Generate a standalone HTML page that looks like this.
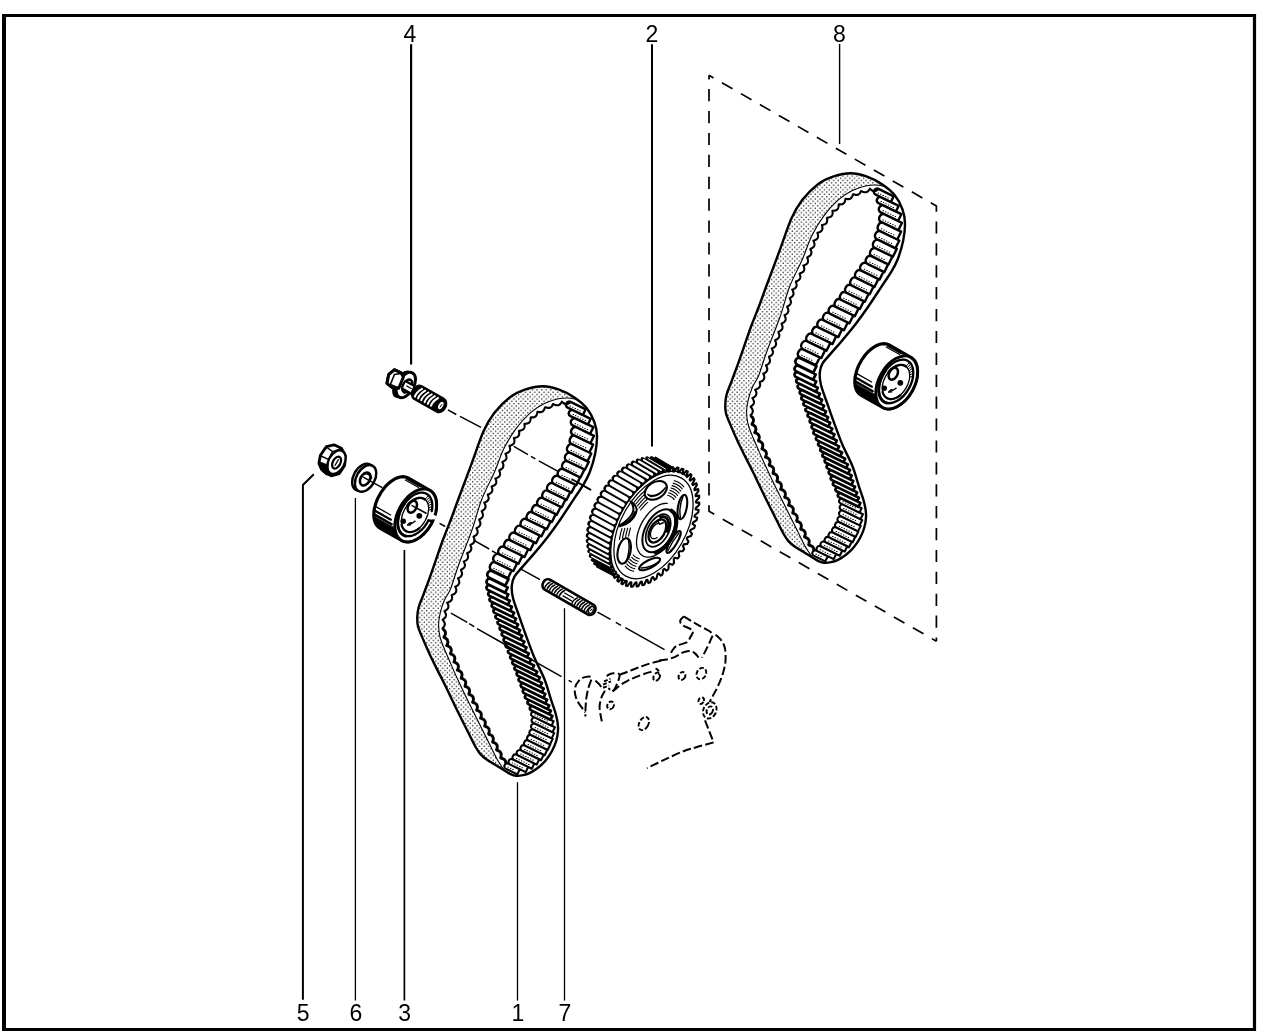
<!DOCTYPE html>
<html lang="en">
<head>
<meta charset="utf-8">
<title>Timing belt - exploded view</title>
<style>
html,body{margin:0;padding:0;background:#fff;}
body{width:1280px;height:1033px;overflow:hidden;font-family:"Liberation Sans",sans-serif;}
svg{display:block;will-change:transform;transform:translateZ(0);}
</style>
</head>
<body>
<svg width="1280" height="1033" viewBox="0 0 1280 1033">
<defs>
<pattern id="stip" width="4.6" height="4.6" patternUnits="userSpaceOnUse">
<rect width="4.6" height="4.6" fill="#fff"/>
<circle cx="1.15" cy="1.15" r="0.72" fill="#000"/>
<circle cx="3.45" cy="3.45" r="0.72" fill="#000"/>
</pattern>
</defs>
<rect width="1280" height="1033" fill="#fff"/>
<path d="M4 15.5 H1254.5 V1029.5 H4 Z" fill="none" stroke="#000" stroke-width="3.2"/>
<rect x="2" y="14" width="4" height="1017" fill="#000"/>
<g font-family="'Liberation Sans', sans-serif" font-size="23px" text-anchor="middle" fill="#000">
<text x="409.9" y="42">4</text>
<text x="651.9" y="42">2</text>
<text x="839.5" y="42">8</text>
<text x="303.1" y="1021">5</text>
<text x="355.8" y="1021">6</text>
<text x="404.6" y="1021">3</text>
<text x="517.8" y="1021">1</text>
<text x="564.8" y="1021">7</text>
</g>
<path d="M411.1 44.3 L411.1 364.5" stroke="#000" stroke-width="2.2" fill="none" />
<path d="M652 44.3 L652 446.5" stroke="#000" stroke-width="2.0" fill="none" />
<path d="M839.6 44 L839.6 144" stroke="#000" stroke-width="1.4" fill="none" />
<path d="M313.8 474.2 L302.9 485 V999.8" stroke="#000" stroke-width="2" fill="none"/>
<path d="M355.4 498 L355.4 1000.6" stroke="#000" stroke-width="1.3" fill="none" />
<path d="M404.4 550 L404.4 1000.6" stroke="#000" stroke-width="1.7" fill="none" />
<path d="M517.5 782.2 L517.5 1000.6" stroke="#000" stroke-width="1.3" fill="none" />
<path d="M564.5 608.3 L564.5 1000.6" stroke="#000" stroke-width="1.3" fill="none" />
<path d="M709 75.3 L936.4 206 V641.2" stroke="#000" stroke-width="1.7" fill="none" stroke-dasharray="12.2 9.7" stroke-linejoin="miter" stroke-dashoffset="7"/>
<path d="M709 75.3 V511.3 L936.4 641.2" stroke="#000" stroke-width="1.7" fill="none" stroke-dasharray="12.2 9.7" stroke-linejoin="miter" stroke-dashoffset="8.1"/>
<path d="M447.9 409.8 L456.3 414.5" stroke="#000" stroke-width="1.5" fill="none"/>
<path d="M460 416.3 L481 427.4" stroke="#000" stroke-width="1.5" fill="none"/>
<path d="M513.8 446.4 L528 454.6" stroke="#000" stroke-width="1.5" fill="none"/>
<path d="M531 456.4 L535.4 458.9" stroke="#000" stroke-width="1.5" fill="none"/>
<path d="M538.8 460.9 L564 474.6" stroke="#000" stroke-width="1.5" fill="none"/>
<path d="M578 482.6 L591 490" stroke="#000" stroke-width="1.5" fill="none"/>
<path d="M439.6 523.3 L445.2 526.5" stroke="#000" stroke-width="1.5" fill="none"/>
<path d="M473.6 540.2 L489.2 549" stroke="#000" stroke-width="1.5" fill="none"/>
<path d="M492 550.8 L497.4 553.8" stroke="#000" stroke-width="1.5" fill="none"/>
<path d="M521 569.2 L540 579.7" stroke="#000" stroke-width="1.5" fill="none"/>
<path d="M597.5 612.2 L610.5 619.4" stroke="#000" stroke-width="1.5" fill="none"/>
<path d="M615.8 622.4 L621 625.3" stroke="#000" stroke-width="1.5" fill="none"/>
<path d="M625.3 627.7 L664.5 649.6" stroke="#000" stroke-width="1.5" fill="none"/>
<path d="M451 613.2 L467.2 622.3" stroke="#000" stroke-width="1.5" fill="none"/>
<path d="M469.2 623.6 L474.2 626.6" stroke="#000" stroke-width="1.5" fill="none"/>
<path d="M477 628.6 L506 645" stroke="#000" stroke-width="1.5" fill="none"/>
<path d="M568.6 680.4 L571.8 682.2" stroke="#000" stroke-width="1.5" fill="none"/>
<g>
<path d="M504 770.2 L503.2 769.7 L502.4 769.2 L501.5 768.7 L500.6 768.1 L499.7 767.5 L498.8 766.9 L497.9 766.4 L496.9 765.8 L496 765.2 L495.1 764.7 L494.2 764.2 L493.3 763.6 L492.4 763.1 L491.4 762.6 L490.5 762 L489.6 761.5 L488.7 760.9 L487.8 760.4 L487 759.8 L486.1 759.2 L485.3 758.5 L484.5 757.9 L483.7 757.3 L482.9 756.6 L482.2 755.9 L481.4 755.2 L480.7 754.4 L480 753.6 L479.4 752.9 L478.9 752.1 L478.3 751.4 L477.8 750.6 L477.3 749.8 L476.8 749 L476.3 748.1 L475.8 747.2 L475.2 746.2 L474.6 745.1 L474 744 L473.6 743.2 L473.2 742.4 L472.7 741.6 L472.3 740.8 L471.9 739.9 L471.4 739 L470.9 738.1 L470.5 737.1 L470 736.2 L469.5 735.2 L469.1 734.2 L468.6 733.2 L468.1 732.2 L467.6 731.1 L467 730.1 L466.5 729.1 L466 728 L465.6 727.2 L465.2 726.3 L464.7 725.5 L464.3 724.6 L463.9 723.8 L463.4 722.9 L463 722 L462.6 721.1 L462.1 720.3 L461.6 719.3 L461.2 718.4 L460.7 717.5 L460.3 716.6 L459.8 715.7 L459.3 714.7 L458.9 713.8 L458.4 712.8 L457.9 711.9 L457.4 710.9 L457 709.9 L456.5 709 L456 708 L455.6 707.1 L455.1 706.2 L454.7 705.3 L454.2 704.4 L453.8 703.4 L453.3 702.5 L452.9 701.5 L452.4 700.5 L451.9 699.5 L451.5 698.5 L451 697.5 L450.5 696.5 L450 695.5 L449.6 694.6 L449.1 693.6 L448.7 692.6 L448.2 691.7 L447.8 690.8 L447.3 689.9 L446.9 689 L446.5 688.1 L446.1 687.3 L445.7 686.5 L445.4 685.7 L445 685 L444.4 683.8 L443.9 682.7 L443.4 681.7 L442.9 680.8 L442.5 679.9 L442.1 679.1 L441.7 678.3 L441.3 677.6 L440.9 676.8 L440.5 676 L440 675.2 L439.6 674.4 L439.1 673.4 L438.6 672.4 L438.2 671.6 L437.8 670.8 L437.4 669.9 L436.9 669.1 L436.5 668.2 L436 667.3 L435.6 666.4 L435.1 665.5 L434.7 664.6 L434.2 663.7 L433.7 662.7 L433.3 661.8 L432.8 660.8 L432.3 659.9 L431.8 658.9 L431.4 657.9 L430.9 656.9 L430.5 656 L430 655 L429.6 654.1 L429.2 653.2 L428.7 652.2 L428.3 651.3 L427.8 650.3 L427.4 649.3 L426.9 648.3 L426.5 647.2 L426 646.2 L425.6 645.2 L425.2 644.2 L424.7 643.2 L424.3 642.2 L423.9 641.3 L423.5 640.3 L423.1 639.4 L422.7 638.5 L422.4 637.7 L422 636.9 L421.7 636.1 L421.4 635.4 L420.8 634 L420.3 632.9 L419.9 631.8 L419.5 630.9 L419.2 630 L418.8 629.2 L418.6 628.5 L418.3 627.7 L418.1 626.9 L417.9 626 L417.7 625 L417.5 624 L417.4 623 L417.3 622 L417.3 621 L417.3 620 L417.2 619 L417.3 618 L417.3 617 L417.3 617 L417.3 616 L417.4 615 L417.5 614 L417.6 613 L417.7 612 L417.8 610.9 L418 609.8 L418.3 608.7 L418.6 607.5 L418.8 606.7 L419.1 605.9 L419.4 605 L419.7 604.2 L420 603.4 L420.3 602.6 L420.7 601.7 L421.1 600.7 L421.5 599.7 L421.9 598.7 L422.3 597.6 L422.8 596.3 L423.3 595 L423.6 594.2 L423.9 593.5 L424.2 592.6 L424.5 591.8 L424.8 591 L425.1 590.1 L425.5 589.2 L425.8 588.3 L426.2 587.3 L426.5 586.4 L426.9 585.4 L427.2 584.4 L427.6 583.4 L428 582.4 L428.4 581.4 L428.7 580.3 L429.1 579.3 L429.5 578.2 L429.9 577.1 L430.3 576 L430.7 574.9 L431.1 573.8 L431.5 572.7 L431.9 571.6 L432.2 570.7 L432.5 569.9 L432.8 569 L433.1 568.1 L433.5 567.1 L433.8 566.2 L434.1 565.2 L434.5 564.2 L434.8 563.2 L435.1 562.2 L435.5 561.2 L435.8 560.2 L436.2 559.2 L436.5 558.2 L436.9 557.2 L437.2 556.2 L437.6 555.1 L437.9 554.1 L438.3 553.1 L438.6 552.1 L439 551.1 L439.3 550.1 L439.6 549.1 L440 548.1 L440.3 547.2 L440.6 546.2 L441 545.3 L441.3 544.4 L441.6 543.5 L441.9 542.7 L442.2 541.8 L442.5 541 L442.9 539.8 L443.3 538.7 L443.7 537.6 L444.1 536.6 L444.5 535.6 L444.9 534.6 L445.3 533.6 L445.7 532.6 L446.1 531.7 L446.4 530.7 L446.8 529.8 L447.2 528.9 L447.5 528 L447.9 527.2 L448.2 526.3 L448.6 525.4 L448.9 524.5 L449.3 523.6 L449.6 522.7 L450 521.8 L450.3 520.9 L450.7 520 L451.1 519 L451.4 518.1 L451.7 517.3 L452 516.4 L452.3 515.6 L452.6 514.8 L452.9 514 L453.2 513.2 L453.5 512.3 L453.8 511.5 L454.1 510.7 L454.4 509.8 L454.7 508.9 L455.1 508 L455.4 507.1 L455.8 506 L456.2 505 L456.6 503.8 L457 502.6 L457.5 501.4 L458 500 L458.3 499.3 L458.6 498.5 L458.8 497.7 L459.1 496.9 L459.5 496.1 L459.8 495.2 L460.1 494.4 L460.4 493.5 L460.8 492.6 L461.1 491.6 L461.5 490.7 L461.8 489.7 L462.2 488.8 L462.6 487.8 L462.9 486.8 L463.3 485.8 L463.7 484.8 L464.1 483.8 L464.4 482.7 L464.8 481.7 L465.2 480.7 L465.6 479.6 L466 478.6 L466.4 477.6 L466.8 476.5 L467.2 475.5 L467.5 474.5 L467.9 473.5 L468.3 472.5 L468.7 471.4 L469.1 470.4 L469.4 469.5 L469.8 468.5 L470.1 467.5 L470.5 466.6 L470.9 465.6 L471.2 464.7 L471.5 463.8 L471.9 462.9 L472.2 462 L472.5 461.2 L472.9 460.1 L473.3 459 L473.7 457.9 L474.1 456.9 L474.5 455.8 L474.8 454.7 L475.2 453.7 L475.6 452.6 L475.9 451.6 L476.3 450.6 L476.6 449.6 L477 448.6 L477.3 447.6 L477.7 446.6 L478 445.6 L478.3 444.7 L478.7 443.7 L479 442.8 L479.3 441.9 L479.7 440.9 L480 440 L480.3 439.1 L480.7 438.2 L481 437.4 L481.3 436.5 L481.7 435.7 L482 434.8 L482.4 434 L482.7 433.2 L483 432.4 L483.4 431.6 L483.9 430.5 L484.4 429.4 L484.9 428.3 L485.4 427.3 L485.9 426.3 L486.4 425.3 L486.9 424.4 L487.4 423.5 L487.9 422.6 L488.4 421.8 L488.9 420.9 L489.4 420.1 L489.9 419.2 L490.4 418.4 L490.9 417.6 L491.5 416.8 L492 416 L492.6 415.2 L493.2 414.4 L493.8 413.6 L494.4 412.8 L495 412 L495.6 411.2 L496.3 410.4 L497 409.7 L497.6 408.9 L498.3 408.1 L499 407.3 L499.7 406.6 L500.5 405.8 L501.2 405.1 L501.9 404.3 L502.6 403.6 L503.4 402.9 L504.1 402.2 L504.9 401.5 L505.6 400.8 L506.4 400.2 L507.1 399.5 L507.8 398.9 L508.6 398.3 L509.3 397.7 L510 397.2 L510.9 396.5 L511.8 395.9 L512.7 395.3 L513.6 394.7 L514.5 394.2 L515.4 393.7 L516.3 393.2 L517.2 392.7 L518.2 392.3 L519.1 391.9 L520 391.5 L520.9 391.1 L521.8 390.8 L522.8 390.4 L523.7 390.1 L524.6 389.7 L525.6 389.4 L526.6 389.1 L527.6 388.8 L528.6 388.5 L529.6 388.2 L530.6 387.9 L531.6 387.7 L532.6 387.4 L533.7 387.2 L534.7 387 L535.8 386.8 L536.8 386.7 L537.8 386.5 L538.8 386.4 L539.8 386.3 L540.8 386.3 L541.8 386.2 L542.8 386.2 L543.9 386.2 L545 386.3 L546 386.4 L547.1 386.5 L548.1 386.6 L549.2 386.8 L550.2 387 L551.2 387.2 L552.2 387.5 L553.3 387.8 L554.3 388 L555.3 388.4 L556.3 388.7 L557.4 389 L558.4 389.4 L559.3 389.7 L560.3 390.1 L561.2 390.5 L562.1 390.9 L563.1 391.3 L564 391.7 L565 392.1 L565.9 392.6 L566.9 393.1 L567.8 393.5 L568.7 394 L569.6 394.5 L570.5 395.1 L571.4 395.6 L572.3 396.1 L573.2 396.7 L574 397.2 L574.9 397.8 L575.8 398.4 L576.6 399 L577.5 399.6 L577 399.6 L576.4 399.5 L575.6 399.3 L574.6 399.1 L573.6 398.9 L572.4 398.6 L571.2 398.4 L570 398.2 L568.9 398.1 L567.8 398 L566.8 398 L565.8 397.9 L564.9 397.9 L563.9 398 L562.9 398.1 L561.9 398.2 L560.8 398.3 L559.6 398.5 L558.4 398.8 L557.5 399 L556.6 399.2 L555.7 399.4 L554.7 399.7 L553.7 400 L552.7 400.3 L551.7 400.6 L550.6 400.9 L549.6 401.2 L548.5 401.6 L547.5 402 L546.4 402.5 L545.4 402.9 L544.4 403.4 L543.5 403.8 L542.6 404.3 L541.8 404.8 L540.9 405.3 L540 405.8 L539.1 406.3 L538.2 406.8 L537.4 407.4 L536.5 408 L535.6 408.6 L534.7 409.2 L533.8 409.9 L532.9 410.6 L532.1 411.3 L531.2 412 L530.3 412.8 L529.6 413.4 L529 414 L528.3 414.7 L527.6 415.3 L526.9 416 L526.2 416.7 L525.5 417.4 L524.9 418.1 L524.2 418.8 L523.5 419.5 L522.8 420.3 L522.1 421.1 L521.4 421.8 L520.8 422.6 L520.1 423.4 L519.4 424.2 L518.8 425 L518.1 425.9 L517.5 426.7 L516.8 427.5 L516.2 428.4 L515.6 429.2 L515 430 L514.5 430.8 L513.9 431.6 L513.3 432.5 L512.8 433.3 L512.2 434.2 L511.6 435 L511.1 435.9 L510.5 436.8 L510 437.7 L509.4 438.6 L508.9 439.5 L508.4 440.4 L507.8 441.3 L507.3 442.2 L506.8 443.1 L506.3 444.1 L505.8 445 L505.3 446 L504.8 446.9 L504.3 447.8 L503.8 448.8 L503.4 449.7 L503 450.6 L502.6 451.4 L502.2 452.3 L501.8 453.2 L501.4 454.1 L501 455 L500.7 455.9 L500.3 456.8 L500 457.7 L499.6 458.7 L499.3 459.6 L499 460.5 L498.6 461.4 L498.3 462.4 L497.9 463.3 L497.6 464.3 L497.2 465.2 L496.8 466.2 L496.5 467.2 L496.1 468.2 L495.7 469.2 L495.3 470.2 L494.8 471.2 L494.4 472.2 L494 473.1 L493.6 473.9 L493.2 474.8 L492.8 475.7 L492.4 476.6 L492 477.4 L491.6 478.3 L491.1 479.2 L490.7 480.1 L490.2 481.1 L489.8 482 L489.3 482.9 L488.9 483.8 L488.4 484.8 L488 485.7 L487.5 486.6 L487 487.6 L486.6 488.5 L486.1 489.5 L485.7 490.4 L485.2 491.4 L484.8 492.3 L484.3 493.3 L483.9 494.2 L483.5 495.2 L483.1 496.1 L482.7 497.1 L482.3 498.1 L481.9 499 L481.5 500 L481.1 500.9 L480.8 501.9 L480.5 502.8 L480.1 503.7 L479.8 504.7 L479.5 505.6 L479.2 506.5 L478.9 507.5 L478.6 508.4 L478.3 509.4 L478 510.3 L477.7 511.3 L477.5 512.2 L477.2 513.2 L476.9 514.1 L476.6 515.1 L476.3 516.1 L476.1 517 L475.8 518 L475.5 519 L475.2 519.9 L474.9 520.9 L474.6 521.9 L474.3 522.9 L474 523.9 L473.7 524.9 L473.4 525.9 L473 526.9 L472.7 527.9 L472.4 529 L472 530 L471.7 530.9 L471.4 531.8 L471 532.7 L470.7 533.7 L470.3 534.6 L470 535.5 L469.6 536.5 L469.3 537.5 L468.9 538.4 L468.5 539.4 L468.1 540.4 L467.8 541.4 L467.4 542.4 L467 543.4 L466.6 544.3 L466.2 545.3 L465.8 546.3 L465.4 547.3 L465 548.3 L464.7 549.3 L464.3 550.3 L463.9 551.3 L463.5 552.2 L463.1 553.2 L462.7 554.2 L462.4 555.1 L462 556.1 L461.6 557 L461.3 557.9 L460.9 558.8 L460.6 559.7 L460.3 560.6 L459.9 561.5 L459.6 562.3 L459.3 563.2 L459 564 L458.6 565.1 L458.2 566.2 L457.8 567.4 L457.4 568.5 L457.1 569.5 L456.7 570.6 L456.3 571.7 L456 572.8 L455.7 573.8 L455.3 574.8 L455 575.8 L454.7 576.8 L454.4 577.8 L454.1 578.8 L453.8 579.7 L453.5 580.7 L453.2 581.6 L452.9 582.5 L452.6 583.3 L452.3 584.2 L452 585 L451.7 585.8 L451.4 586.6 L451.2 587.4 L450.9 588.1 L450.6 588.8 L450 590.2 L449.4 591.4 L448.9 592.5 L448.3 593.5 L447.8 594.3 L447.3 595.1 L446.8 595.9 L446.3 596.6 L445.8 597.4 L445.4 598.2 L444.9 599 L444.5 600 L444.1 600.9 L443.7 601.9 L443.3 602.9 L443 603.9 L442.6 604.9 L442.2 605.9 L441.9 607 L441.6 608 L441.3 609 L441 610 L440.7 611 L440.4 612 L440.2 613 L440 614 L439.7 615.1 L439.5 616.1 L439.4 617.1 L439.2 618.1 L439 619.1 L438.9 620.1 L438.8 621 L438.7 622 L438.7 623 L438.6 624 L438.6 625 L438.6 626 L438.6 627 L438.7 628 L438.7 629 L438.8 630.1 L439 631.1 L439.1 632.1 L439.2 633.1 L439.4 634.1 L439.6 635.1 L439.8 636 L440 637 L440.3 638 L440.5 639 L440.8 640 L441.2 640.9 L441.5 641.9 L441.9 642.9 L442.3 643.8 L442.7 644.8 L443.1 645.8 L443.6 646.9 L444 648 L444.3 648.8 L444.7 649.7 L445 650.5 L445.4 651.4 L445.8 652.3 L446.2 653.2 L446.6 654.1 L447 655 L447.4 656 L447.8 656.9 L448.2 657.9 L448.6 658.9 L449.1 659.9 L449.5 660.9 L450 662 L450.4 662.8 L450.7 663.7 L451.1 664.6 L451.5 665.4 L451.9 666.3 L452.3 667.2 L452.7 668.1 L453.1 669 L453.5 670 L453.9 670.9 L454.3 671.9 L454.7 672.8 L455.2 673.8 L455.6 674.8 L456.1 675.8 L456.5 676.8 L457 677.9 L457.5 678.9 L458 680 L458.4 680.8 L458.8 681.7 L459.2 682.5 L459.6 683.4 L460 684.3 L460.4 685.2 L460.9 686.1 L461.3 687 L461.7 688 L462.2 688.9 L462.6 689.8 L463.1 690.8 L463.5 691.7 L464 692.7 L464.5 693.6 L464.9 694.6 L465.4 695.5 L465.8 696.5 L466.3 697.4 L466.8 698.4 L467.2 699.3 L467.7 700.3 L468.1 701.2 L468.6 702.1 L469 703 L469.5 703.9 L469.9 704.9 L470.4 705.8 L470.8 706.7 L471.3 707.7 L471.8 708.6 L472.2 709.6 L472.7 710.5 L473.2 711.4 L473.6 712.3 L474.1 713.3 L474.6 714.2 L475 715.1 L475.5 716 L475.9 716.9 L476.4 717.9 L476.9 718.8 L477.3 719.7 L477.8 720.6 L478.2 721.5 L478.7 722.4 L479.1 723.2 L479.6 724.1 L480 725 L480.5 726 L481 726.9 L481.4 727.9 L481.9 728.8 L482.4 729.8 L482.9 730.8 L483.4 731.7 L483.8 732.7 L484.3 733.6 L484.8 734.6 L485.2 735.5 L485.7 736.4 L486.2 737.3 L486.6 738.3 L487.1 739.1 L487.5 740 L488 740.9 L488.4 741.8 L488.8 742.6 L489.2 743.4 L489.6 744.2 L490 745 L490.6 746.1 L491.1 747.2 L491.6 748.2 L492.1 749.2 L492.6 750.2 L493 751.2 L493.5 752.1 L493.9 753 L494.4 753.9 L494.8 754.8 L495.2 755.7 L495.7 756.5 L496.1 757.3 L496.5 758.2 L497 759 L497.6 760 L498.2 761.1 L498.9 762.2 L499.5 763.2 L500.2 764.3 L500.8 765.3 L501.5 766.2 L502 767.1 L502.6 767.9 L503.1 768.7 L503.5 769.3 L503.8 769.8Z" fill="url(#stip)" stroke="none"/>
<path d="M551.5 725.7 L532.5 716.4 A2.4 2.4 26.1 0 1 534.6 712 L553.6 721.3Z M552.5 732.2 L533.2 722.8 A2.7 2.7 26.1 0 1 535.6 717.9 L554.9 727.3Z M551.6 738.4 L532.7 729.2 A2.9 2.9 26.1 0 1 535.3 723.9 L554.2 733.1Z M550 744.4 L531.2 735.2 A3 3 26.1 0 1 533.8 729.7 L552.7 738.9Z M547.6 750 L528.8 740.8 A3 3 26.1 0 1 531.5 735.3 L550.3 744.5Z M544.7 755.3 L525.7 746 A3 3 26.1 0 1 528.4 740.6 L547.3 749.8Z M541 760.2 L522.2 751 A3 3 26.1 0 1 524.9 745.6 L543.7 754.8Z M536.7 764.6 L518.3 755.6 A2.9 2.9 26.1 0 1 520.9 750.3 L539.3 759.3Z M531.8 768.7 L514.1 760 A2.9 2.9 26.1 0 1 516.7 754.8 L534.3 763.5Z M525.7 772.1 L509.9 764.4 A2.9 2.9 26.1 0 1 512.4 759.2 L528.2 766.9Z M517.3 774.4 L505.6 768.6 A2.8 2.8 26.1 0 1 508 763.6 L519.8 769.3Z" fill="#fff" stroke="#000" stroke-width="2.1" stroke-linejoin="round"/>
<path d="M582.8 415.1 L567.7 407.7 A3.2 3.2 26.1 0 1 570.5 401.9 L585.7 409.3Z M587.9 424.6 L570.5 416.1 A3.2 3.2 26.1 0 1 573.4 410.4 L590.7 418.8Z M590.1 433.8 L572.7 425.3 A3.4 3.7 26.1 0 1 575.9 418.6 L593.4 427.2Z M590.4 443.3 L572.5 434.6 A3.4 4.2 26.1 0 1 576.1 427.1 L594 435.8Z M589.3 452.5 L570.9 443.5 A3.4 4.4 26.1 0 1 574.7 435.7 L593.1 444.7Z M587.4 461.3 L568.7 452.1 A3.4 4.3 26.1 0 1 572.5 444.3 L591.3 453.5Z M584.9 469.7 L566.6 460.8 A3.4 4.4 26.1 0 1 570.5 452.9 L588.8 461.9Z M580.5 477.5 L563.7 469.2 A3.4 4.4 26.1 0 1 567.6 461.3 L584.4 469.5Z M576.3 485.2 L559.4 476.9 A3.4 4.3 26.1 0 1 563.2 469.1 L580.1 477.4Z M571.5 492.6 L553.8 483.9 A3.4 4.4 26.1 0 1 557.7 476 L575.4 484.7Z M566.5 499.9 L548.7 491.2 A3.4 4.4 26.1 0 1 552.6 483.3 L570.4 492Z M561.7 507.3 L543.7 498.5 A3.4 4.4 26.1 0 1 547.5 490.6 L565.5 499.4Z M556.8 514.7 L538.6 505.8 A3.4 4.4 26.1 0 1 542.4 497.9 L560.7 506.8Z M551.9 522 L533.2 512.9 A3.4 4.4 26.1 0 1 537.1 505.1 L555.7 514.2Z M546.8 529.2 L527.8 519.9 A3.4 4.4 26.1 0 1 531.6 512.1 L550.6 521.4Z M541.5 536.3 L522.3 526.9 A3.4 4.3 26.1 0 1 526.1 519.1 L545.3 528.5Z M536 543.2 L516.7 533.8 A3.4 4.3 26.1 0 1 520.5 526 L539.8 535.5Z M530.3 550.1 L511 540.6 A3.4 4.3 26.1 0 1 514.8 532.8 L534.1 542.3Z M524.5 557 L505.4 547.6 A3.4 4.4 26.1 0 1 509.2 539.8 L528.3 549.1Z M518.5 563.7 L499.9 554.7 A3.4 4.4 26.1 0 1 503.8 546.8 L522.4 555.9Z M513.4 571.1 L494.9 562.1 A3.4 4.4 26.1 0 1 498.8 554.1 L517.2 563.1Z M507.9 578.2 L491.3 570 A3.4 4.3 26.1 0 1 495 562.3 L511.7 570.5Z" fill="#fff" stroke="#000" stroke-width="2.4" stroke-linejoin="round"/>
<path d="M505.3 585.6 L489.2 577.7 A3.4 3.6 26.1 0 1 492.4 571.2 L508.5 579.1Z M505.1 592.7 L487.8 584.2 A3 3 26.1 0 1 490.4 578.9 L507.7 587.4Z M506 598.9 L487.9 590 A2.5 2.5 26.1 0 1 490.1 585.5 L508.3 594.4Z M507.8 604.8 L489.1 595.6 A2.3 2.3 26.1 0 1 491.1 591.6 L509.8 600.7Z M510 610.8 L490.9 601.5 A2.2 2.2 26.1 0 1 492.8 597.4 L511.9 606.8Z M512.2 616.7 L492.7 607.2 A2.2 2.2 26.1 0 1 494.6 603.3 L514.1 612.8Z M514.2 622.5 L494.6 612.9 A2.1 2.1 26.1 0 1 496.5 609.1 L516.1 618.6Z M516.2 628.2 L496.7 618.6 A2.1 2.1 26.1 0 1 498.5 614.8 L518.1 624.4Z M518.3 633.9 L498.7 624.4 A2.1 2.1 26.1 0 1 500.6 620.6 L520.1 630.1Z M520.3 639.7 L500.8 630.1 A2.1 2.1 26.1 0 1 502.7 626.3 L522.2 635.8Z M522.4 645.5 L502.8 635.9 A2.2 2.2 26.1 0 1 504.8 632 L524.4 641.6Z M524.6 651.5 L504.7 641.7 A2.2 2.2 26.1 0 1 506.7 637.8 L526.5 647.5Z M526.9 657.3 L506.7 647.4 A2.1 2.1 26.1 0 1 508.6 643.6 L528.8 653.5Z M529.2 663.1 L508.8 653.1 A2.1 2.1 26.1 0 1 510.6 649.4 L531.1 659.4Z M532.3 669.2 L511 658.8 A2.1 2.1 26.1 0 1 512.8 655.1 L534.1 665.5Z M535.5 675.2 L513.3 664.3 A2 2 26.1 0 1 515 660.7 L537.2 671.6Z M538.1 681 L515.6 670 A2 2 26.1 0 1 517.4 666.4 L539.9 677.4Z M540.1 686.7 L517.8 675.8 A2.1 2.1 26.1 0 1 519.7 672 L542 682.9Z M541.9 692.3 L519.9 681.6 A2.1 2.1 26.1 0 1 521.8 677.7 L543.7 688.5Z M543.4 697.9 L521.9 687.3 A2.1 2.1 26.1 0 1 523.8 683.5 L545.3 694Z M545.2 703.5 L524 693.1 A2.1 2.1 26.1 0 1 525.8 689.3 L547.1 699.7Z M547.4 709.1 L526.1 698.6 A2 2 26.1 0 1 527.9 695 L549.2 705.4Z M549.2 714.3 L528.5 704.2 A2 2 26.1 0 1 530.2 700.6 L550.9 710.7Z M550.5 719.8 L530.8 710.1 A2.2 2.2 26.1 0 1 532.7 706.2 L552.4 715.9Z" fill="#fff" stroke="#000" stroke-width="2.7" stroke-linejoin="round"/>
<path d="M570.1 406.1h0.5 M572.5 407.3h0.5 M575 408.5h0.5 M577.4 409.7h0.5 M579.8 410.9h0.5 M573 414.5h0.5 M575.4 415.7h0.5 M577.8 416.9h0.5 M580.3 418.1h0.5 M582.7 419.3h0.5 M585.1 420.5h0.5 M575.1 423.7h0.5 M577.5 424.9h0.5 M579.9 426h0.5 M582.4 427.2h0.5 M584.8 428.4h0.5 M587.2 429.6h0.5 M574.9 433h0.5 M577.3 434.2h0.5 M579.8 435.3h0.5 M582.2 436.5h0.5 M584.6 437.7h0.5 M587.1 438.9h0.5 M573.3 441.9h0.5 M575.7 443.1h0.5 M578.2 444.3h0.5 M580.6 445.5h0.5 M583 446.6h0.5 M585.4 447.8h0.5 M571.1 450.5h0.5 M573.6 451.7h0.5 M576 452.9h0.5 M578.4 454.1h0.5 M580.8 455.3h0.5 M583.3 456.4h0.5 M569.1 459.2h0.5 M571.5 460.4h0.5 M573.9 461.6h0.5 M576.3 462.8h0.5 M578.8 464h0.5 M581.2 465.1h0.5 M566.1 467.7h0.5 M568.5 468.8h0.5 M570.9 470h0.5 M573.4 471.2h0.5 M575.8 472.4h0.5 M561.8 475.3h0.5 M564.3 476.5h0.5 M566.7 477.7h0.5 M569.1 478.9h0.5 M571.5 480.1h0.5 M556.3 482.3h0.5 M558.7 483.5h0.5 M561.1 484.7h0.5 M563.5 485.9h0.5 M566 487.1h0.5 M568.4 488.2h0.5 M551.2 489.6h0.5 M553.6 490.8h0.5 M556 492h0.5 M558.5 493.2h0.5 M560.9 494.4h0.5 M563.3 495.6h0.5 M546.1 497h0.5 M548.5 498.1h0.5 M551 499.3h0.5 M553.4 500.5h0.5 M555.8 501.7h0.5 M558.3 502.9h0.5 M541 504.2h0.5 M543.5 505.4h0.5 M545.9 506.6h0.5 M548.3 507.8h0.5 M550.7 509h0.5 M553.2 510.2h0.5 M535.7 511.3h0.5 M538.1 512.5h0.5 M540.5 513.7h0.5 M543 514.9h0.5 M545.4 516.1h0.5 M547.8 517.2h0.5 M530.2 518.4h0.5 M532.7 519.5h0.5 M535.1 520.7h0.5 M537.5 521.9h0.5 M539.9 523.1h0.5 M542.4 524.3h0.5 M524.8 525.3h0.5 M527.2 526.5h0.5 M529.6 527.7h0.5 M532 528.9h0.5 M534.5 530.1h0.5 M536.9 531.3h0.5 M519.1 532.2h0.5 M521.6 533.4h0.5 M524 534.6h0.5 M526.4 535.8h0.5 M528.8 537h0.5 M531.3 538.1h0.5 M513.4 539h0.5 M515.8 540.2h0.5 M518.3 541.4h0.5 M520.7 542.6h0.5 M523.1 543.8h0.5 M525.5 545h0.5 M507.9 546h0.5 M510.3 547.2h0.5 M512.7 548.4h0.5 M515.1 549.6h0.5 M517.6 550.8h0.5 M520 552h0.5 M502.4 553.1h0.5 M504.8 554.3h0.5 M507.2 555.4h0.5 M509.7 556.6h0.5 M512.1 557.8h0.5 M514.5 559h0.5 M497.3 560.5h0.5 M499.8 561.7h0.5 M502.2 562.9h0.5 M504.6 564h0.5 M507.1 565.2h0.5 M509.5 566.4h0.5 M493.7 568.4h0.5 M496.1 569.6h0.5 M498.6 570.8h0.5 M501 572h0.5 M503.4 573.2h0.5 M534.8 714.9h0.5 M537.3 716.1h0.5 M539.7 717.3h0.5 M542.1 718.5h0.5 M544.5 719.6h0.5 M547 720.8h0.5 M535.6 721.4h0.5 M538 722.6h0.5 M540.5 723.8h0.5 M542.9 724.9h0.5 M545.3 726.1h0.5 M547.7 727.3h0.5 M535.1 727.7h0.5 M537.5 728.9h0.5 M540 730.1h0.5 M542.4 731.3h0.5 M544.8 732.5h0.5 M547.2 733.6h0.5 M533.6 733.7h0.5 M536 734.9h0.5 M538.4 736.1h0.5 M540.8 737.3h0.5 M543.3 738.5h0.5 M545.7 739.6h0.5 M531.2 739.4h0.5 M533.6 740.5h0.5 M536.1 741.7h0.5 M538.5 742.9h0.5 M540.9 744.1h0.5 M543.3 745.3h0.5 M528.1 744.6h0.5 M530.5 745.8h0.5 M532.9 746.9h0.5 M535.4 748.1h0.5 M537.8 749.3h0.5 M540.2 750.5h0.5 M524.6 749.5h0.5 M527 750.7h0.5 M529.5 751.9h0.5 M531.9 753.1h0.5 M534.3 754.3h0.5 M536.7 755.5h0.5 M520.7 754.1h0.5 M523.1 755.3h0.5 M525.5 756.5h0.5 M527.9 757.7h0.5 M530.4 758.9h0.5 M532.8 760.1h0.5 M516.5 758.6h0.5 M518.9 759.8h0.5 M521.4 760.9h0.5 M523.8 762.1h0.5 M526.2 763.3h0.5 M528.6 764.5h0.5 M512.2 762.9h0.5 M514.7 764.1h0.5 M517.1 765.3h0.5 M519.5 766.5h0.5 M521.9 767.7h0.5 M507.9 767.2h0.5 M510.4 768.4h0.5 M512.8 769.5h0.5" stroke="#000" stroke-width="1" stroke-linecap="round" fill="none"/>
<path d="M417.3 617 C417.4 613.9 417.6 611.2 418.6 607.5 C419.6 603.8 421.1 601 423.3 595 C425.5 589 428.7 580.6 431.9 571.6 C435.1 562.6 439.4 549.6 442.5 541 C445.6 532.4 448.1 526.8 450.7 520 C453.3 513.2 454.4 509.8 458 500 C461.6 490.2 468.3 472.6 472.5 461.2 C476.7 449.8 479.8 439.7 483.4 431.6 C487 423.5 490 418.5 494.4 412.8 C498.8 407.1 504.8 401.1 510 397.2 C515.2 393.3 520.1 391.2 525.6 389.4 C531.1 387.6 537.3 386.2 542.8 386.2 C548.3 386.2 553.2 387.6 558.4 389.4 C563.6 391.2 569.3 394.1 574 397.2 C578.7 400.3 583.2 403.9 586.6 408.1 C590 412.3 592.7 417.5 594.4 422.2 C596.1 426.9 596.9 431 597 436.2 C597.1 441.4 596.4 447.4 595.2 453.4 C594 459.4 591.7 467 589.7 472.2 C587.7 477.4 586 480.3 583.4 484.7 C580.8 489.1 577.9 492.9 574 498.8 C570.1 504.7 564.4 513.6 560 520 C555.6 526.4 551.9 531.5 547.5 537.2 C543.1 542.9 537.6 549.5 533.4 554.4 C529.2 559.3 525.6 563.3 522.5 566.9 C519.4 570.5 516.5 573.1 514.7 576.2 C512.9 579.3 512.1 582 511.8 585.6 C511.5 589.2 511.7 592.8 513 598 C514.3 603.2 517 610.1 519.4 616.9 C521.8 623.7 524.6 631.8 527.2 638.8 C529.8 645.8 532.1 652.3 535 659 C537.9 665.7 541.7 672.2 544.4 679 C547.1 685.8 549.2 694 551 699.5 C552.8 705 554.1 708.2 555.2 712 C556.3 715.8 557 718.9 557.5 722 C558 725.1 558.2 727.3 558 730.5 C557.8 733.7 557.2 737.6 556.2 741 C555.2 744.4 553.7 747.8 552 751 C550.3 754.2 548.3 757.2 546 760 C543.7 762.8 540.7 765.7 538 767.8 C535.3 769.9 532.5 771.6 530 772.8 C527.5 774 525.3 774.7 523 775.2 C520.7 775.7 518.2 776 516 775.8 C513.8 775.6 512 774.7 510 773.8 C508 772.9 506.3 771.6 504 770.2 C501.7 768.8 498.8 766.9 496 765.2 C493.2 763.5 489.7 761.7 487 759.8 C484.3 757.9 482.2 756.2 480 753.6 C477.8 751 476.3 748.3 474 744 C471.7 739.7 469 734 466 728 C463 722 459.5 715.2 456 708 C452.5 700.8 447.9 690.9 445 685 C442.1 679.1 441.1 677.4 438.6 672.4 C436.1 667.4 432.9 661.2 430 655 C427.1 648.8 423.4 640.2 421.4 635.4 C419.4 630.6 418.6 629.1 417.9 626 C417.2 622.9 417.2 620.1 417.3 617Z" fill="none" stroke="#000" stroke-width="2.4" stroke-linejoin="round"/>
<path d="M577 399.6 C575.5 399.3 570.9 398.1 567.8 398 C564.7 397.9 562.3 397.9 558.4 398.8 C554.5 399.7 549.1 401.1 544.4 403.4 C539.7 405.7 535 408.6 530.3 412.8 C525.6 417 520.6 422.4 516.2 428.4 C511.8 434.4 507.4 441.5 503.8 448.8 C500.2 456.1 498.1 463.7 494.4 472.2 C490.7 480.7 485.2 490.4 481.5 500 C477.8 509.6 475.8 519.3 472 530 C468.2 540.7 462.6 554.2 459 564 C455.4 573.8 453 582.8 450.6 588.8 C448.2 594.8 446.2 596 444.5 600 C442.8 604 441.2 608.8 440.2 613 C439.2 617.2 438.6 621 438.6 625 C438.6 629 439.1 633.2 440 637 C440.9 640.8 442.3 643.8 444 648 C445.7 652.2 447.7 656.7 450 662 C452.3 667.3 454.8 673.2 458 680 C461.2 686.8 465.3 695.5 469 703 C472.7 710.5 476.5 718 480 725 C483.5 732 487.2 739.3 490 745 C492.8 750.7 494.7 754.9 497 759 C499.3 763.1 502.7 768 503.8 769.8" fill="none" stroke="#000" stroke-width="1.1"/>
<path d="M570.7 401.8 L570 402.4 L569.4 402.9 L568.8 403.3 L568.3 403.5 L567.9 403.8 L567.5 403.9 L567 404.1 L566.6 404.1 L566.2 404.1 L565.8 404.1 L565.4 404 L565 403.9 L564.6 403.7 L564.2 403.5 L563.8 403.3 L563.3 403 L562.9 402.6 L562.4 402.2 L561.9 401.6 L561.5 402.3 L561.1 402.9 L560.6 403.5 L560.2 404 L559.7 404.5 L559.3 404.7 L559 404.9 L558.6 405.1 L558.2 405.2 L557.7 405.3 L557.3 405.3 L556.8 405.3 L556.3 405.2 L555.8 405.1 L555.3 404.9 L554.7 404.7 L554.1 404.4 L553.5 404 L553 404.1 L552.7 404.8 L552.4 405.4 L552.1 405.9 L551.7 406.4 L551.3 406.8 L551 407.1 L550.5 407.4 L550.1 407.7 L549.7 407.8 L549.2 407.9 L548.7 408 L548.2 407.9 L547.7 407.9 L547.1 407.8 L546.5 407.6 L545.9 407.4 L545.3 407.2 L544.9 407.4 L544.7 408.1 L544.5 408.7 L544.3 409.2 L544.1 409.7 L543.8 410.2 L543.5 410.6 L543.2 410.9 L542.9 411.3 L542.5 411.5 L542.1 411.7 L541.6 411.9 L541.2 412 L540.7 412.1 L540.1 412.1 L539.5 412.1 L538.9 412 L538.3 411.9 L537.5 411.7 L537.3 412.2 L537.2 413 L537.1 413.6 L536.9 414.2 L536.7 414.8 L536.5 415.3 L536.2 415.7 L535.9 416.1 L535.6 416.4 L535.2 416.7 L534.7 417 L534.2 417.2 L533.7 417.3 L533.2 417.4 L532.7 417.4 L532.1 417.4 L531.5 417.4 L530.8 417.4 L530.6 417.8 L530.6 418.4 L530.6 419.1 L530.5 419.6 L530.4 420.2 L530.3 420.7 L530.1 421.2 L529.9 421.6 L529.6 422 L529.3 422.4 L529 422.7 L528.6 422.9 L528.2 423.2 L527.7 423.4 L527.1 423.5 L526.5 423.6 L525.9 423.7 L525.2 423.8 L524.4 423.7 L524.5 424.5 L524.6 425.2 L524.6 425.9 L524.6 426.5 L524.5 427 L524.3 427.6 L524.1 428.1 L523.9 428.5 L523.6 428.9 L523.3 429.3 L522.9 429.6 L522.4 429.9 L521.9 430.1 L521.3 430.3 L520.7 430.5 L520 430.6 L519.3 430.7 L518.9 431 L519.1 431.7 L519.2 432.3 L519.2 432.9 L519.2 433.5 L519.2 434 L519.1 434.5 L519 435 L518.8 435.4 L518.5 435.9 L518.2 436.2 L517.9 436.6 L517.5 436.9 L517 437.1 L516.5 437.4 L516 437.6 L515.3 437.8 L514.7 437.9 L513.9 438 L514.1 438.7 L514.3 439.4 L514.4 440.1 L514.4 440.7 L514.4 441.3 L514.4 441.8 L514.3 442.3 L514.1 442.8 L513.9 443.2 L513.6 443.7 L513.2 444 L512.8 444.4 L512.4 444.7 L511.8 445 L511.3 445.2 L510.6 445.4 L509.9 445.6 L509.4 445.9 L509.7 446.7 L509.9 447.3 L510 448 L510.1 448.6 L510.1 449.1 L510.1 449.7 L510 450.2 L509.8 450.7 L509.6 451.1 L509.3 451.5 L509 451.9 L508.6 452.2 L508.2 452.5 L507.7 452.8 L507.2 453 L506.6 453.3 L506 453.5 L505.4 453.7 L505.8 454.4 L506 455 L506.2 455.6 L506.3 456.1 L506.4 456.7 L506.5 457.2 L506.5 457.7 L506.4 458.2 L506.3 458.6 L506.1 459 L505.9 459.5 L505.6 459.8 L505.2 460.2 L504.8 460.6 L504.3 460.9 L503.8 461.2 L503.2 461.5 L502.5 461.8 L502.3 462.3 L502.7 462.9 L503 463.6 L503.2 464.2 L503.3 464.8 L503.4 465.3 L503.4 465.9 L503.3 466.4 L503.2 466.9 L503 467.4 L502.7 467.9 L502.4 468.3 L501.9 468.7 L501.4 469.1 L500.9 469.5 L500.2 469.8 L499.5 470.1 L499.2 470.6 L499.5 471.3 L499.8 472 L499.9 472.7 L500 473.4 L500.1 474 L500 474.6 L499.9 475.1 L499.7 475.6 L499.5 476 L499.2 476.4 L498.8 476.8 L498.4 477.1 L497.9 477.4 L497.4 477.7 L496.8 478 L496.1 478.2 L495.3 478.4 L495.7 479.1 L496 479.8 L496.1 480.4 L496.2 481 L496.3 481.6 L496.3 482.1 L496.2 482.7 L496.1 483.2 L495.9 483.6 L495.6 484.1 L495.3 484.5 L494.9 484.9 L494.5 485.2 L494 485.5 L493.4 485.8 L492.8 486.1 L492.1 486.3 L491.6 486.6 L491.9 487.3 L492.1 488 L492.2 488.6 L492.3 489.2 L492.4 489.8 L492.3 490.4 L492.2 490.9 L492.1 491.4 L491.9 491.8 L491.6 492.3 L491.2 492.7 L490.8 493 L490.3 493.4 L489.8 493.7 L489.2 493.9 L488.6 494.2 L487.8 494.4 L487.9 495 L488.2 495.7 L488.4 496.3 L488.5 497 L488.6 497.5 L488.7 498.1 L488.6 498.6 L488.5 499.1 L488.4 499.6 L488.1 500 L487.9 500.4 L487.5 500.8 L487.1 501.1 L486.7 501.5 L486.2 501.8 L485.6 502.1 L485 502.4 L484.2 502.6 L484.6 503.2 L484.9 503.9 L485.1 504.5 L485.3 505 L485.4 505.6 L485.5 506.1 L485.5 506.6 L485.5 507.1 L485.4 507.5 L485.2 508 L485 508.4 L484.7 508.8 L484.4 509.2 L484 509.6 L483.5 510 L483 510.3 L482.5 510.6 L481.8 510.9 L481.7 511.4 L482 512 L482.3 512.6 L482.6 513.2 L482.7 513.8 L482.9 514.3 L482.9 514.9 L482.9 515.4 L482.8 515.9 L482.7 516.3 L482.5 516.8 L482.2 517.2 L481.9 517.7 L481.5 518.1 L481 518.5 L480.5 518.8 L479.9 519.2 L479.2 519.5 L479.2 520.1 L479.6 520.7 L479.9 521.3 L480.1 521.9 L480.3 522.5 L480.4 523.1 L480.4 523.7 L480.4 524.2 L480.2 524.7 L480 525.2 L479.8 525.7 L479.4 526.2 L479 526.6 L478.5 527 L477.9 527.4 L477.3 527.7 L476.5 528.1 L476.7 528.7 L477 529.4 L477.3 530.1 L477.5 530.7 L477.6 531.4 L477.6 532 L477.6 532.5 L477.5 533 L477.4 533.4 L477.1 533.9 L476.8 534.3 L476.5 534.7 L476.1 535.1 L475.6 535.5 L475.1 535.8 L474.4 536.1 L473.7 536.4 L473.5 536.9 L473.9 537.6 L474.2 538.2 L474.3 538.8 L474.5 539.4 L474.5 540 L474.5 540.6 L474.5 541.1 L474.3 541.6 L474.1 542.1 L473.8 542.6 L473.4 543 L473 543.4 L472.5 543.8 L471.9 544.1 L471.3 544.4 L470.5 544.7 L470.4 545.3 L470.7 546 L471 546.6 L471.2 547.3 L471.3 547.9 L471.3 548.5 L471.3 549.1 L471.2 549.6 L471 550.1 L470.8 550.6 L470.4 551 L470 551.4 L469.6 551.8 L469.1 552.2 L468.5 552.5 L467.8 552.8 L467.1 553.1 L467.2 553.7 L467.5 554.4 L467.8 555 L467.9 555.6 L468 556.2 L468.1 556.8 L468 557.3 L467.9 557.8 L467.8 558.3 L467.6 558.7 L467.3 559.2 L466.9 559.6 L466.6 559.9 L466.1 560.3 L465.6 560.6 L465 560.9 L464.4 561.2 L463.7 561.4 L464 562 L464.3 562.6 L464.5 563.2 L464.7 563.7 L464.8 564.3 L464.9 564.8 L464.9 565.2 L464.9 565.7 L464.8 566.1 L464.6 566.7 L464.4 567.2 L464 567.7 L463.6 568.1 L463.1 568.6 L462.5 569 L461.8 569.3 L461 569.7 L461 570.3 L461.3 571 L461.6 571.7 L461.8 572.3 L462 573 L462 573.6 L462 574.1 L461.9 574.7 L461.7 575.2 L461.5 575.7 L461.1 576.1 L460.7 576.6 L460.3 577 L459.7 577.4 L459.1 577.7 L458.4 578 L458 578.5 L458.4 579.1 L458.7 579.8 L459 580.4 L459.1 581 L459.2 581.5 L459.3 582 L459.3 582.6 L459.2 583 L459 583.5 L458.8 583.9 L458.6 584.4 L458.3 584.8 L457.9 585.1 L457.5 585.5 L457 585.8 L456.5 586.1 L455.9 586.4 L455.3 586.6 L455.4 587.1 L455.7 587.7 L455.9 588.2 L456.1 588.8 L456.2 589.3 L456.3 589.7 L456.3 590.2 L456.3 590.7 L456.2 591.1 L456 591.9 L455.6 592.6 L455.1 593.2 L454.5 593.8 L453.7 594.2 L453 594.5 L452.1 594.8 L451.7 595.2 L451.9 596 L452.1 596.7 L452.1 597.4 L452.1 598 L452 598.5 L451.9 599 L451.8 599.4 L451.7 599.7 L451.5 600.1 L451.3 600.4 L451.1 600.6 L450.8 600.8 L450.5 601.1 L450.2 601.3 L449.9 601.5 L449.4 601.7 L448.9 602 L448.4 602.2 L447.8 602.4 L447.2 602.7 L447.6 603.4 L447.9 604 L448.1 604.6 L448.3 605.2 L448.4 605.7 L448.4 606.2 L448.4 606.8 L448.3 607.2 L448.2 607.7 L448 608.2 L447.7 608.6 L447.4 609 L447 609.4 L446.6 609.7 L446.1 610.1 L445.5 610.4 L444.9 610.8 L444.4 611.1 L444.8 611.7 L445.2 612.3 L445.4 612.9 L445.6 613.4 L445.8 613.9 L445.9 614.3 L446 614.9 L446 615.4 L445.9 615.9 L445.8 616.3 L445.6 616.8 L445.3 617.2 L445 617.6 L444.7 618 L444.3 618.4 L443.8 618.8 L443.3 619.2 L442.7 619.6 L442.8 620 L443.3 620.6 L443.6 621.1 L444 621.5 L444.2 622 L444.4 622.5 L444.6 622.9 L444.7 623.3 L444.8 623.8 L444.8 624.2 L444.8 624.6 L444.7 625 L444.5 625.5 L444.3 625.9 L444.1 626.4 L443.8 626.8 L443.4 627.3 L443 627.8 L442.5 628.3 L442.5 628.7" fill="none" stroke="#000" stroke-width="2.1" stroke-linejoin="round"/>
<path d="M442.5 628.7 L443.1 629.2 L443.6 629.6 L444 630 L444.4 630.4 L444.7 630.8 L445 631.3 L445.2 631.7 L445.3 632.1 L445.4 632.5 L445.5 633 L445.4 633.5 L445.4 633.9 L445.3 634.4 L445.1 634.9 L444.9 635.4 L444.6 635.9 L444.3 636.4 L443.9 637 L444 637.4 L444.6 637.7 L445.1 638 L445.6 638.3 L446.1 638.6 L446.4 638.9 L446.8 639.2 L447.1 639.6 L447.4 639.9 L447.6 640.3 L447.7 640.8 L447.8 641.2 L447.9 641.7 L447.9 642.3 L447.8 642.9 L447.7 643.5 L447.5 644.1 L447.2 644.8 L446.7 645.6 L447.7 645.9 L448.4 646.2 L448.9 646.5 L449.4 646.8 L449.8 647.1 L450.1 647.4 L450.5 647.8 L450.7 648.2 L450.9 648.6 L451.1 649 L451.2 649.5 L451.3 650 L451.3 650.5 L451.2 651 L451.1 651.6 L450.9 652.2 L450.7 652.9 L450.4 653.5 L450.7 654 L451.4 654.2 L452.1 654.5 L452.6 654.8 L453.1 655.2 L453.6 655.5 L454 656 L454.3 656.4 L454.5 656.9 L454.7 657.4 L454.8 658 L454.8 658.6 L454.7 659.3 L454.6 660 L454.4 660.6 L454.2 661.1 L453.9 661.8 L454.3 662.1 L454.9 662.3 L455.5 662.6 L456 662.9 L456.5 663.2 L456.9 663.5 L457.3 663.8 L457.6 664.2 L457.9 664.6 L458.1 665 L458.2 665.5 L458.3 666 L458.4 666.5 L458.4 667 L458.3 667.6 L458.1 668.2 L458 668.8 L457.7 669.5 L457.4 670.2 L458.2 670.4 L458.9 670.6 L459.5 670.9 L460 671.3 L460.5 671.6 L460.9 672 L461.3 672.4 L461.6 672.9 L461.8 673.4 L461.9 673.9 L462 674.5 L462 675.1 L461.9 675.7 L461.8 676.4 L461.5 677.1 L461.2 677.9 L461.5 678.4 L462.2 678.6 L462.7 678.8 L463.3 679.1 L463.7 679.4 L464.2 679.7 L464.6 680 L464.9 680.4 L465.2 680.8 L465.4 681.2 L465.6 681.7 L465.7 682.2 L465.7 682.7 L465.7 683.3 L465.6 683.8 L465.5 684.5 L465.3 685.1 L465 685.8 L465.1 686.4 L465.8 686.6 L466.5 686.8 L467.1 687.1 L467.6 687.4 L468.1 687.8 L468.5 688.2 L468.9 688.6 L469.1 689 L469.3 689.5 L469.5 690 L469.5 690.6 L469.5 691.2 L469.5 691.8 L469.4 692.4 L469.2 693.1 L468.9 693.8 L469 694.4 L469.7 694.6 L470.4 694.9 L471 695.2 L471.5 695.5 L472 695.8 L472.4 696.2 L472.7 696.6 L473 697.1 L473.2 697.6 L473.3 698.1 L473.4 698.6 L473.4 699.2 L473.4 699.7 L473.3 700.4 L473.1 701 L472.8 701.7 L472.6 702.4 L473.4 702.5 L474.1 702.8 L474.7 703 L475.2 703.3 L475.7 703.7 L476.1 704 L476.5 704.4 L476.8 704.8 L477 705.3 L477.2 705.8 L477.3 706.3 L477.4 706.8 L477.3 707.4 L477.3 708 L477.1 708.7 L476.9 709.3 L476.6 710 L477 710.4 L477.7 710.6 L478.4 710.9 L478.9 711.1 L479.4 711.4 L479.9 711.8 L480.3 712.2 L480.6 712.5 L480.9 713 L481.1 713.4 L481.2 713.9 L481.3 714.4 L481.3 715 L481.3 715.6 L481.2 716.2 L481.1 716.8 L480.8 717.5 L480.5 718.2 L481.2 718.4 L481.9 718.6 L482.5 718.9 L483 719.1 L483.5 719.4 L483.9 719.8 L484.3 720.1 L484.6 720.5 L484.9 720.9 L485.1 721.4 L485.2 721.8 L485.3 722.3 L485.3 722.9 L485.3 723.5 L485.2 724.2 L485 724.9 L484.8 725.6 L484.7 726.2 L485.5 726.4 L486.2 726.7 L486.8 727 L487.4 727.3 L487.9 727.7 L488.3 728.1 L488.6 728.5 L488.9 728.9 L489.1 729.4 L489.2 730 L489.3 730.5 L489.3 731.1 L489.2 731.7 L489.1 732.4 L488.9 733.1 L488.6 733.8 L488.9 734.3 L489.6 734.5 L490.3 734.7 L490.9 735 L491.4 735.3 L491.8 735.6 L492.2 736 L492.6 736.4 L492.8 736.8 L493 737.3 L493.2 737.7 L493.3 738.2 L493.3 738.8 L493.3 739.3 L493.2 739.9 L493.1 740.5 L492.9 741.1 L492.7 741.7 L492.7 742.2 L493.4 742.3 L494 742.5 L494.5 742.8 L495.1 743.1 L495.7 743.5 L496.2 743.9 L496.6 744.4 L496.9 744.9 L497.1 745.4 L497.2 746 L497.3 746.6 L497.2 747.2 L497.2 747.8 L497 748.5 L496.8 749.1 L496.5 749.8 L496.9 750.2 L497.6 750.4 L498.2 750.7 L498.7 750.9 L499.2 751.2 L499.6 751.5 L500 751.8 L500.3 752.2 L500.6 752.6 L500.8 752.9 L501 753.4 L501.1 753.8 L501.2 754.2 L501.2 754.7 L501.2 755.2 L501.1 755.7 L501 756.3 L500.9 756.8 L500.6 757.6 L500.9 758.1 L501.7 758.3 L502.4 758.5 L503.1 758.8 L503.7 759.1 L504.2 759.4 L504.6 759.8 L505 760.3 L505.3 760.7 L505.5 761.3 L505.6 761.9 L505.7 762.5 L505.7 763.1 L505.6 763.8" fill="none" stroke="#000" stroke-width="2.9" stroke-linejoin="round"/>
</g>
<g>
<path d="M812 557.2 L811.2 556.7 L810.4 556.2 L809.5 555.7 L808.6 555.1 L807.7 554.5 L806.8 553.9 L805.9 553.4 L804.9 552.8 L804 552.2 L803.1 551.7 L802.2 551.2 L801.3 550.6 L800.4 550.1 L799.4 549.6 L798.5 549 L797.6 548.5 L796.7 547.9 L795.8 547.4 L795 546.8 L794.1 546.2 L793.3 545.5 L792.5 544.9 L791.7 544.3 L790.9 543.6 L790.2 542.9 L789.4 542.2 L788.7 541.4 L788 540.6 L787.4 539.9 L786.9 539.1 L786.3 538.4 L785.8 537.6 L785.3 536.8 L784.8 536 L784.3 535.1 L783.8 534.2 L783.2 533.2 L782.6 532.1 L782 531 L781.6 530.2 L781.2 529.4 L780.7 528.6 L780.3 527.8 L779.9 526.9 L779.4 526 L778.9 525.1 L778.5 524.1 L778 523.2 L777.5 522.2 L777.1 521.2 L776.6 520.2 L776.1 519.2 L775.6 518.1 L775 517.1 L774.5 516.1 L774 515 L773.6 514.2 L773.2 513.3 L772.7 512.5 L772.3 511.6 L771.9 510.8 L771.4 509.9 L771 509 L770.6 508.1 L770.1 507.3 L769.6 506.3 L769.2 505.4 L768.7 504.5 L768.3 503.6 L767.8 502.7 L767.3 501.7 L766.9 500.8 L766.4 499.8 L765.9 498.9 L765.4 497.9 L765 496.9 L764.5 496 L764 495 L763.6 494.1 L763.1 493.2 L762.7 492.3 L762.2 491.4 L761.8 490.4 L761.3 489.5 L760.9 488.5 L760.4 487.5 L759.9 486.5 L759.5 485.5 L759 484.5 L758.5 483.5 L758 482.5 L757.6 481.6 L757.1 480.6 L756.7 479.6 L756.2 478.7 L755.8 477.8 L755.3 476.9 L754.9 476 L754.5 475.1 L754.1 474.3 L753.7 473.5 L753.4 472.7 L753 472 L752.4 470.8 L751.9 469.7 L751.4 468.7 L750.9 467.8 L750.5 466.9 L750.1 466.1 L749.7 465.3 L749.3 464.6 L748.9 463.8 L748.5 463 L748 462.2 L747.6 461.4 L747.1 460.4 L746.6 459.4 L746.2 458.6 L745.8 457.8 L745.4 456.9 L744.9 456.1 L744.5 455.2 L744 454.3 L743.6 453.4 L743.1 452.5 L742.7 451.6 L742.2 450.7 L741.7 449.7 L741.3 448.8 L740.8 447.8 L740.3 446.9 L739.8 445.9 L739.4 444.9 L738.9 443.9 L738.5 443 L738 442 L737.6 441.1 L737.2 440.2 L736.7 439.2 L736.3 438.3 L735.8 437.3 L735.4 436.3 L734.9 435.3 L734.5 434.2 L734 433.2 L733.6 432.2 L733.2 431.2 L732.7 430.2 L732.3 429.2 L731.9 428.3 L731.5 427.3 L731.1 426.4 L730.7 425.5 L730.4 424.7 L730 423.9 L729.7 423.1 L729.4 422.4 L728.8 421 L728.3 419.9 L727.9 418.8 L727.5 417.9 L727.1 417 L726.8 416.2 L726.6 415.5 L726.3 414.7 L726.1 413.9 L725.9 413 L725.7 412 L725.5 411 L725.4 410 L725.3 409 L725.3 408 L725.3 407 L725.2 406 L725.3 405 L725.3 404 L725.3 404 L725.3 403 L725.4 402 L725.5 401 L725.6 400 L725.7 399 L725.8 397.9 L726 396.8 L726.3 395.7 L726.6 394.5 L726.8 393.7 L727.1 392.9 L727.4 392 L727.7 391.2 L728 390.4 L728.3 389.6 L728.7 388.7 L729.1 387.7 L729.5 386.7 L729.9 385.7 L730.3 384.6 L730.8 383.3 L731.3 382 L731.6 381.2 L731.9 380.5 L732.2 379.6 L732.5 378.8 L732.8 378 L733.1 377.1 L733.5 376.2 L733.8 375.3 L734.2 374.3 L734.5 373.4 L734.9 372.4 L735.2 371.4 L735.6 370.4 L736 369.4 L736.4 368.4 L736.7 367.3 L737.1 366.3 L737.5 365.2 L737.9 364.1 L738.3 363 L738.7 361.9 L739.1 360.8 L739.5 359.7 L739.9 358.6 L740.2 357.7 L740.5 356.9 L740.8 356 L741.1 355.1 L741.5 354.1 L741.8 353.2 L742.1 352.2 L742.5 351.2 L742.8 350.2 L743.1 349.2 L743.5 348.2 L743.8 347.2 L744.2 346.2 L744.5 345.2 L744.9 344.2 L745.2 343.2 L745.6 342.1 L745.9 341.1 L746.3 340.1 L746.6 339.1 L747 338.1 L747.3 337.1 L747.6 336.1 L748 335.1 L748.3 334.2 L748.6 333.2 L749 332.3 L749.3 331.4 L749.6 330.5 L749.9 329.7 L750.2 328.8 L750.5 328 L750.9 326.8 L751.3 325.7 L751.7 324.6 L752.1 323.6 L752.5 322.6 L752.9 321.6 L753.3 320.6 L753.7 319.6 L754.1 318.7 L754.4 317.7 L754.8 316.8 L755.2 315.9 L755.5 315 L755.9 314.2 L756.2 313.3 L756.6 312.4 L756.9 311.5 L757.3 310.6 L757.6 309.7 L758 308.8 L758.3 307.9 L758.7 307 L759.1 306 L759.4 305.1 L759.7 304.3 L760 303.4 L760.3 302.6 L760.6 301.8 L760.9 301 L761.2 300.2 L761.5 299.3 L761.8 298.5 L762.1 297.7 L762.4 296.8 L762.7 295.9 L763.1 295 L763.4 294.1 L763.8 293 L764.2 292 L764.6 290.8 L765 289.6 L765.5 288.4 L766 287 L766.3 286.3 L766.6 285.5 L766.8 284.7 L767.1 283.9 L767.5 283.1 L767.8 282.2 L768.1 281.4 L768.4 280.5 L768.8 279.6 L769.1 278.6 L769.5 277.7 L769.8 276.7 L770.2 275.8 L770.6 274.8 L770.9 273.8 L771.3 272.8 L771.7 271.8 L772.1 270.8 L772.4 269.7 L772.8 268.7 L773.2 267.7 L773.6 266.6 L774 265.6 L774.4 264.6 L774.8 263.5 L775.2 262.5 L775.5 261.5 L775.9 260.5 L776.3 259.5 L776.7 258.4 L777.1 257.4 L777.4 256.5 L777.8 255.5 L778.1 254.5 L778.5 253.6 L778.9 252.6 L779.2 251.7 L779.5 250.8 L779.9 249.9 L780.2 249 L780.5 248.2 L780.9 247.1 L781.3 246 L781.7 244.9 L782.1 243.9 L782.5 242.8 L782.8 241.7 L783.2 240.7 L783.6 239.6 L783.9 238.6 L784.3 237.6 L784.6 236.6 L785 235.6 L785.3 234.6 L785.7 233.6 L786 232.6 L786.3 231.7 L786.7 230.7 L787 229.8 L787.3 228.9 L787.7 227.9 L788 227 L788.3 226.1 L788.7 225.2 L789 224.4 L789.3 223.5 L789.7 222.7 L790 221.8 L790.4 221 L790.7 220.2 L791 219.4 L791.4 218.6 L791.9 217.5 L792.4 216.4 L792.9 215.3 L793.4 214.3 L793.9 213.3 L794.4 212.3 L794.9 211.4 L795.4 210.5 L795.9 209.6 L796.4 208.8 L796.9 207.9 L797.4 207.1 L797.9 206.2 L798.4 205.4 L798.9 204.6 L799.5 203.8 L800 203 L800.6 202.2 L801.2 201.4 L801.8 200.6 L802.4 199.8 L803 199 L803.6 198.2 L804.3 197.4 L805 196.7 L805.6 195.9 L806.3 195.1 L807 194.3 L807.7 193.6 L808.5 192.8 L809.2 192.1 L809.9 191.3 L810.6 190.6 L811.4 189.9 L812.1 189.2 L812.9 188.5 L813.6 187.8 L814.4 187.2 L815.1 186.5 L815.8 185.9 L816.6 185.3 L817.3 184.7 L818 184.2 L818.9 183.5 L819.8 182.9 L820.7 182.3 L821.6 181.7 L822.5 181.2 L823.4 180.7 L824.3 180.2 L825.2 179.7 L826.2 179.3 L827.1 178.9 L828 178.5 L828.9 178.1 L829.8 177.8 L830.8 177.4 L831.7 177.1 L832.6 176.7 L833.6 176.4 L834.6 176.1 L835.6 175.8 L836.6 175.5 L837.6 175.2 L838.6 174.9 L839.6 174.7 L840.6 174.4 L841.7 174.2 L842.7 174 L843.8 173.8 L844.8 173.7 L845.8 173.5 L846.8 173.4 L847.8 173.3 L848.8 173.3 L849.8 173.2 L850.8 173.2 L851.9 173.2 L853 173.3 L854 173.4 L855.1 173.5 L856.1 173.6 L857.2 173.8 L858.2 174 L859.2 174.2 L860.2 174.5 L861.3 174.8 L862.3 175 L863.3 175.4 L864.3 175.7 L865.4 176 L866.4 176.4 L867.3 176.7 L868.3 177.1 L869.2 177.5 L870.1 177.9 L871.1 178.3 L872 178.7 L873 179.1 L873.9 179.6 L874.9 180.1 L875.8 180.5 L876.7 181 L877.6 181.5 L878.5 182.1 L879.4 182.6 L880.3 183.1 L881.2 183.7 L882 184.2 L882.9 184.8 L883.8 185.4 L884.6 186 L885.5 186.6 L885 186.6 L884.4 186.5 L883.6 186.3 L882.6 186.1 L881.6 185.9 L880.4 185.6 L879.2 185.4 L878 185.2 L876.9 185.1 L875.8 185 L874.8 185 L873.8 184.9 L872.9 184.9 L871.9 185 L870.9 185.1 L869.9 185.2 L868.8 185.3 L867.6 185.5 L866.4 185.8 L865.5 186 L864.6 186.2 L863.7 186.4 L862.7 186.7 L861.7 187 L860.7 187.3 L859.7 187.6 L858.6 187.9 L857.6 188.2 L856.5 188.6 L855.5 189 L854.4 189.5 L853.4 189.9 L852.4 190.4 L851.5 190.8 L850.6 191.3 L849.8 191.8 L848.9 192.3 L848 192.8 L847.1 193.3 L846.2 193.8 L845.4 194.4 L844.5 195 L843.6 195.6 L842.7 196.2 L841.8 196.9 L840.9 197.6 L840.1 198.3 L839.2 199 L838.3 199.8 L837.6 200.4 L837 201 L836.3 201.7 L835.6 202.3 L834.9 203 L834.2 203.7 L833.5 204.4 L832.9 205.1 L832.2 205.8 L831.5 206.5 L830.8 207.3 L830.1 208.1 L829.4 208.8 L828.8 209.6 L828.1 210.4 L827.4 211.2 L826.8 212 L826.1 212.9 L825.5 213.7 L824.8 214.5 L824.2 215.4 L823.6 216.2 L823 217 L822.5 217.8 L821.9 218.6 L821.3 219.5 L820.8 220.3 L820.2 221.2 L819.6 222 L819.1 222.9 L818.5 223.8 L818 224.7 L817.4 225.6 L816.9 226.5 L816.4 227.4 L815.8 228.3 L815.3 229.2 L814.8 230.1 L814.3 231.1 L813.8 232 L813.3 233 L812.8 233.9 L812.3 234.8 L811.8 235.8 L811.4 236.7 L811 237.6 L810.6 238.4 L810.2 239.3 L809.8 240.2 L809.4 241.1 L809 242 L808.7 242.9 L808.3 243.8 L808 244.7 L807.6 245.7 L807.3 246.6 L807 247.5 L806.6 248.4 L806.3 249.4 L805.9 250.3 L805.6 251.3 L805.2 252.2 L804.8 253.2 L804.5 254.2 L804.1 255.2 L803.7 256.2 L803.3 257.2 L802.8 258.2 L802.4 259.2 L802 260.1 L801.6 260.9 L801.2 261.8 L800.8 262.7 L800.4 263.6 L800 264.4 L799.6 265.3 L799.1 266.2 L798.7 267.1 L798.2 268.1 L797.8 269 L797.3 269.9 L796.9 270.8 L796.4 271.8 L796 272.7 L795.5 273.6 L795 274.6 L794.6 275.5 L794.1 276.5 L793.7 277.4 L793.2 278.4 L792.8 279.3 L792.3 280.3 L791.9 281.2 L791.5 282.2 L791.1 283.1 L790.7 284.1 L790.3 285.1 L789.9 286 L789.5 287 L789.1 287.9 L788.8 288.9 L788.5 289.8 L788.1 290.7 L787.8 291.7 L787.5 292.6 L787.2 293.5 L786.9 294.5 L786.6 295.4 L786.3 296.4 L786 297.3 L785.7 298.3 L785.5 299.2 L785.2 300.2 L784.9 301.1 L784.6 302.1 L784.3 303.1 L784.1 304 L783.8 305 L783.5 306 L783.2 306.9 L782.9 307.9 L782.6 308.9 L782.3 309.9 L782 310.9 L781.7 311.9 L781.4 312.9 L781 313.9 L780.7 314.9 L780.4 316 L780 317 L779.7 317.9 L779.4 318.8 L779 319.7 L778.7 320.7 L778.3 321.6 L778 322.5 L777.6 323.5 L777.3 324.5 L776.9 325.4 L776.5 326.4 L776.1 327.4 L775.8 328.4 L775.4 329.4 L775 330.4 L774.6 331.3 L774.2 332.3 L773.8 333.3 L773.4 334.3 L773 335.3 L772.7 336.3 L772.3 337.3 L771.9 338.3 L771.5 339.2 L771.1 340.2 L770.7 341.2 L770.4 342.1 L770 343.1 L769.6 344 L769.3 344.9 L768.9 345.8 L768.6 346.7 L768.3 347.6 L767.9 348.5 L767.6 349.3 L767.3 350.2 L767 351 L766.6 352.1 L766.2 353.2 L765.8 354.4 L765.4 355.5 L765.1 356.5 L764.7 357.6 L764.3 358.7 L764 359.8 L763.7 360.8 L763.3 361.8 L763 362.8 L762.7 363.8 L762.4 364.8 L762.1 365.8 L761.8 366.7 L761.5 367.7 L761.2 368.6 L760.9 369.5 L760.6 370.3 L760.3 371.2 L760 372 L759.7 372.8 L759.4 373.6 L759.2 374.4 L758.9 375.1 L758.6 375.8 L758 377.2 L757.4 378.4 L756.9 379.5 L756.3 380.5 L755.8 381.3 L755.3 382.1 L754.8 382.9 L754.3 383.6 L753.8 384.4 L753.4 385.2 L752.9 386 L752.5 387 L752.1 387.9 L751.7 388.9 L751.3 389.9 L751 390.9 L750.6 391.9 L750.2 392.9 L749.9 394 L749.6 395 L749.3 396 L749 397 L748.7 398 L748.4 399 L748.2 400 L748 401 L747.7 402.1 L747.5 403.1 L747.4 404.1 L747.2 405.1 L747 406.1 L746.9 407.1 L746.8 408 L746.7 409 L746.7 410 L746.6 411 L746.6 412 L746.6 413 L746.6 414 L746.7 415 L746.7 416 L746.8 417.1 L747 418.1 L747.1 419.1 L747.2 420.1 L747.4 421.1 L747.6 422.1 L747.8 423 L748 424 L748.3 425 L748.5 426 L748.8 427 L749.2 427.9 L749.5 428.9 L749.9 429.9 L750.3 430.8 L750.7 431.8 L751.1 432.8 L751.6 433.9 L752 435 L752.3 435.8 L752.7 436.7 L753 437.5 L753.4 438.4 L753.8 439.3 L754.2 440.2 L754.6 441.1 L755 442 L755.4 443 L755.8 443.9 L756.2 444.9 L756.6 445.9 L757.1 446.9 L757.5 447.9 L758 449 L758.4 449.8 L758.7 450.7 L759.1 451.6 L759.5 452.4 L759.9 453.3 L760.3 454.2 L760.7 455.1 L761.1 456 L761.5 457 L761.9 457.9 L762.3 458.9 L762.7 459.8 L763.2 460.8 L763.6 461.8 L764.1 462.8 L764.5 463.8 L765 464.9 L765.5 465.9 L766 467 L766.4 467.8 L766.8 468.7 L767.2 469.5 L767.6 470.4 L768 471.3 L768.4 472.2 L768.9 473.1 L769.3 474 L769.7 475 L770.2 475.9 L770.6 476.8 L771.1 477.8 L771.5 478.7 L772 479.7 L772.5 480.6 L772.9 481.6 L773.4 482.5 L773.8 483.5 L774.3 484.4 L774.8 485.4 L775.2 486.3 L775.7 487.3 L776.1 488.2 L776.6 489.1 L777 490 L777.5 490.9 L777.9 491.9 L778.4 492.8 L778.8 493.7 L779.3 494.7 L779.8 495.6 L780.2 496.6 L780.7 497.5 L781.2 498.4 L781.6 499.3 L782.1 500.3 L782.6 501.2 L783 502.1 L783.5 503 L783.9 503.9 L784.4 504.9 L784.9 505.8 L785.3 506.7 L785.8 507.6 L786.2 508.5 L786.7 509.4 L787.1 510.2 L787.6 511.1 L788 512 L788.5 513 L789 513.9 L789.4 514.9 L789.9 515.8 L790.4 516.8 L790.9 517.8 L791.4 518.7 L791.8 519.7 L792.3 520.6 L792.8 521.6 L793.2 522.5 L793.7 523.4 L794.2 524.3 L794.6 525.3 L795.1 526.1 L795.5 527 L796 527.9 L796.4 528.8 L796.8 529.6 L797.2 530.4 L797.6 531.2 L798 532 L798.6 533.1 L799.1 534.2 L799.6 535.2 L800.1 536.2 L800.6 537.2 L801 538.2 L801.5 539.1 L801.9 540 L802.4 540.9 L802.8 541.8 L803.2 542.7 L803.7 543.5 L804.1 544.3 L804.5 545.2 L805 546 L805.6 547 L806.2 548.1 L806.9 549.2 L807.5 550.2 L808.2 551.3 L808.8 552.3 L809.5 553.2 L810 554.1 L810.6 554.9 L811.1 555.7 L811.5 556.3 L811.8 556.8Z" fill="url(#stip)" stroke="none"/>
<path d="M859.5 512.7 L840.5 503.4 A2.4 2.4 26.1 0 1 842.6 499 L861.6 508.3Z M860.5 519.2 L841.2 509.8 A2.7 2.7 26.1 0 1 843.6 504.9 L862.9 514.3Z M859.6 525.4 L840.7 516.2 A2.9 2.9 26.1 0 1 843.3 510.9 L862.2 520.1Z M858 531.4 L839.2 522.2 A3 3 26.1 0 1 841.8 516.7 L860.7 525.9Z M855.6 537 L836.8 527.8 A3 3 26.1 0 1 839.5 522.3 L858.3 531.5Z M852.7 542.3 L833.7 533 A3 3 26.1 0 1 836.4 527.6 L855.3 536.8Z M849 547.2 L830.2 538 A3 3 26.1 0 1 832.9 532.6 L851.7 541.8Z M844.7 551.6 L826.3 542.6 A2.9 2.9 26.1 0 1 828.9 537.3 L847.3 546.3Z M839.8 555.7 L822.1 547 A2.9 2.9 26.1 0 1 824.7 541.8 L842.3 550.5Z M833.7 559.1 L817.9 551.4 A2.9 2.9 26.1 0 1 820.4 546.2 L836.2 553.9Z M825.3 561.4 L813.6 555.6 A2.8 2.8 26.1 0 1 816 550.6 L827.8 556.3Z" fill="#fff" stroke="#000" stroke-width="2.1" stroke-linejoin="round"/>
<path d="M890.8 202.1 L875.7 194.7 A3.2 3.2 26.1 0 1 878.5 188.9 L893.7 196.3Z M895.9 211.6 L878.5 203.1 A3.2 3.2 26.1 0 1 881.4 197.4 L898.7 205.8Z M898.1 220.8 L880.7 212.3 A3.4 3.7 26.1 0 1 883.9 205.6 L901.4 214.2Z M898.4 230.3 L880.5 221.6 A3.4 4.2 26.1 0 1 884.1 214.1 L902 222.8Z M897.3 239.5 L878.9 230.5 A3.4 4.4 26.1 0 1 882.7 222.7 L901.1 231.7Z M895.4 248.3 L876.7 239.1 A3.4 4.3 26.1 0 1 880.5 231.3 L899.3 240.5Z M892.9 256.7 L874.6 247.8 A3.4 4.4 26.1 0 1 878.5 239.9 L896.8 248.9Z M888.5 264.5 L871.7 256.2 A3.4 4.4 26.1 0 1 875.6 248.3 L892.4 256.5Z M884.3 272.2 L867.4 263.9 A3.4 4.3 26.1 0 1 871.2 256.1 L888.1 264.4Z M879.5 279.6 L861.8 270.9 A3.4 4.4 26.1 0 1 865.7 263 L883.4 271.7Z M874.5 286.9 L856.7 278.2 A3.4 4.4 26.1 0 1 860.6 270.3 L878.4 279Z M869.7 294.3 L851.7 285.5 A3.4 4.4 26.1 0 1 855.5 277.6 L873.5 286.4Z M864.8 301.7 L846.6 292.8 A3.4 4.4 26.1 0 1 850.4 284.9 L868.7 293.8Z M859.9 309 L841.2 299.9 A3.4 4.4 26.1 0 1 845.1 292.1 L863.7 301.2Z M854.8 316.2 L835.8 306.9 A3.4 4.4 26.1 0 1 839.6 299.1 L858.6 308.4Z M849.5 323.3 L830.3 313.9 A3.4 4.3 26.1 0 1 834.1 306.1 L853.3 315.5Z M844 330.2 L824.7 320.8 A3.4 4.3 26.1 0 1 828.5 313 L847.8 322.5Z M838.3 337.1 L819 327.6 A3.4 4.3 26.1 0 1 822.8 319.8 L842.1 329.3Z M832.5 344 L813.4 334.6 A3.4 4.4 26.1 0 1 817.2 326.8 L836.3 336.1Z M826.5 350.7 L807.9 341.7 A3.4 4.4 26.1 0 1 811.8 333.8 L830.4 342.9Z M821.4 358.1 L802.9 349.1 A3.4 4.4 26.1 0 1 806.8 341.1 L825.2 350.1Z M815.9 365.2 L799.3 357 A3.4 4.3 26.1 0 1 803 349.3 L819.7 357.5Z" fill="#fff" stroke="#000" stroke-width="2.4" stroke-linejoin="round"/>
<path d="M813.3 372.6 L797.2 364.7 A3.4 3.6 26.1 0 1 800.4 358.2 L816.5 366.1Z M813.1 379.7 L795.8 371.2 A3 3 26.1 0 1 798.4 365.9 L815.7 374.4Z M814 385.9 L795.9 377 A2.5 2.5 26.1 0 1 798.1 372.5 L816.3 381.4Z M815.8 391.8 L797.1 382.6 A2.3 2.3 26.1 0 1 799.1 378.6 L817.8 387.7Z M818 397.8 L798.9 388.5 A2.2 2.2 26.1 0 1 800.8 384.4 L819.9 393.8Z M820.2 403.7 L800.7 394.2 A2.2 2.2 26.1 0 1 802.6 390.3 L822.1 399.8Z M822.2 409.5 L802.6 399.9 A2.1 2.1 26.1 0 1 804.5 396.1 L824.1 405.6Z M824.2 415.2 L804.7 405.6 A2.1 2.1 26.1 0 1 806.5 401.8 L826.1 411.4Z M826.3 420.9 L806.7 411.4 A2.1 2.1 26.1 0 1 808.6 407.6 L828.1 417.1Z M828.3 426.7 L808.8 417.1 A2.1 2.1 26.1 0 1 810.7 413.3 L830.2 422.8Z M830.4 432.5 L810.8 422.9 A2.2 2.2 26.1 0 1 812.8 419 L832.4 428.6Z M832.6 438.5 L812.7 428.7 A2.2 2.2 26.1 0 1 814.7 424.8 L834.5 434.5Z M834.9 444.3 L814.7 434.4 A2.1 2.1 26.1 0 1 816.6 430.6 L836.8 440.5Z M837.2 450.1 L816.8 440.1 A2.1 2.1 26.1 0 1 818.6 436.4 L839.1 446.4Z M840.3 456.2 L819 445.8 A2.1 2.1 26.1 0 1 820.8 442.1 L842.1 452.5Z M843.5 462.2 L821.3 451.3 A2 2 26.1 0 1 823 447.7 L845.2 458.6Z M846.1 468 L823.6 457 A2 2 26.1 0 1 825.4 453.4 L847.9 464.4Z M848.1 473.7 L825.8 462.8 A2.1 2.1 26.1 0 1 827.7 459 L850 469.9Z M849.9 479.3 L827.9 468.6 A2.1 2.1 26.1 0 1 829.8 464.7 L851.7 475.5Z M851.4 484.9 L829.9 474.3 A2.1 2.1 26.1 0 1 831.8 470.5 L853.3 481Z M853.2 490.5 L832 480.1 A2.1 2.1 26.1 0 1 833.8 476.3 L855.1 486.7Z M855.4 496.1 L834.1 485.6 A2 2 26.1 0 1 835.9 482 L857.2 492.4Z M857.2 501.3 L836.5 491.2 A2 2 26.1 0 1 838.2 487.6 L858.9 497.7Z M858.5 506.8 L838.8 497.1 A2.2 2.2 26.1 0 1 840.7 493.2 L860.4 502.9Z" fill="#fff" stroke="#000" stroke-width="2.7" stroke-linejoin="round"/>
<path d="M878.1 193.1h0.5 M880.5 194.3h0.5 M883 195.5h0.5 M885.4 196.7h0.5 M887.8 197.9h0.5 M881 201.5h0.5 M883.4 202.7h0.5 M885.8 203.9h0.5 M888.3 205.1h0.5 M890.7 206.3h0.5 M893.1 207.5h0.5 M883.1 210.7h0.5 M885.5 211.9h0.5 M887.9 213h0.5 M890.4 214.2h0.5 M892.8 215.4h0.5 M895.2 216.6h0.5 M882.9 220h0.5 M885.3 221.2h0.5 M887.8 222.3h0.5 M890.2 223.5h0.5 M892.6 224.7h0.5 M895.1 225.9h0.5 M881.3 228.9h0.5 M883.7 230.1h0.5 M886.2 231.3h0.5 M888.6 232.5h0.5 M891 233.6h0.5 M893.4 234.8h0.5 M879.1 237.5h0.5 M881.6 238.7h0.5 M884 239.9h0.5 M886.4 241.1h0.5 M888.8 242.3h0.5 M891.3 243.4h0.5 M877.1 246.2h0.5 M879.5 247.4h0.5 M881.9 248.6h0.5 M884.3 249.8h0.5 M886.8 251h0.5 M889.2 252.1h0.5 M874.1 254.7h0.5 M876.5 255.8h0.5 M878.9 257h0.5 M881.4 258.2h0.5 M883.8 259.4h0.5 M869.8 262.3h0.5 M872.3 263.5h0.5 M874.7 264.7h0.5 M877.1 265.9h0.5 M879.5 267.1h0.5 M864.3 269.3h0.5 M866.7 270.5h0.5 M869.1 271.7h0.5 M871.5 272.9h0.5 M874 274.1h0.5 M876.4 275.2h0.5 M859.2 276.6h0.5 M861.6 277.8h0.5 M864 279h0.5 M866.5 280.2h0.5 M868.9 281.4h0.5 M871.3 282.6h0.5 M854.1 284h0.5 M856.5 285.1h0.5 M859 286.3h0.5 M861.4 287.5h0.5 M863.8 288.7h0.5 M866.3 289.9h0.5 M849 291.2h0.5 M851.5 292.4h0.5 M853.9 293.6h0.5 M856.3 294.8h0.5 M858.7 296h0.5 M861.2 297.2h0.5 M843.7 298.3h0.5 M846.1 299.5h0.5 M848.5 300.7h0.5 M851 301.9h0.5 M853.4 303.1h0.5 M855.8 304.2h0.5 M838.2 305.4h0.5 M840.7 306.5h0.5 M843.1 307.7h0.5 M845.5 308.9h0.5 M847.9 310.1h0.5 M850.4 311.3h0.5 M832.8 312.3h0.5 M835.2 313.5h0.5 M837.6 314.7h0.5 M840 315.9h0.5 M842.5 317.1h0.5 M844.9 318.3h0.5 M827.1 319.2h0.5 M829.6 320.4h0.5 M832 321.6h0.5 M834.4 322.8h0.5 M836.8 324h0.5 M839.3 325.1h0.5 M821.4 326h0.5 M823.8 327.2h0.5 M826.3 328.4h0.5 M828.7 329.6h0.5 M831.1 330.8h0.5 M833.5 332h0.5 M815.9 333h0.5 M818.3 334.2h0.5 M820.7 335.4h0.5 M823.1 336.6h0.5 M825.6 337.8h0.5 M828 339h0.5 M810.4 340.1h0.5 M812.8 341.3h0.5 M815.2 342.4h0.5 M817.7 343.6h0.5 M820.1 344.8h0.5 M822.5 346h0.5 M805.3 347.5h0.5 M807.8 348.7h0.5 M810.2 349.9h0.5 M812.6 351h0.5 M815.1 352.2h0.5 M817.5 353.4h0.5 M801.7 355.4h0.5 M804.1 356.6h0.5 M806.6 357.8h0.5 M809 359h0.5 M811.4 360.2h0.5 M842.8 501.9h0.5 M845.3 503.1h0.5 M847.7 504.3h0.5 M850.1 505.5h0.5 M852.5 506.6h0.5 M855 507.8h0.5 M843.6 508.4h0.5 M846 509.6h0.5 M848.5 510.8h0.5 M850.9 511.9h0.5 M853.3 513.1h0.5 M855.7 514.3h0.5 M843.1 514.7h0.5 M845.5 515.9h0.5 M848 517.1h0.5 M850.4 518.3h0.5 M852.8 519.5h0.5 M855.2 520.6h0.5 M841.6 520.7h0.5 M844 521.9h0.5 M846.4 523.1h0.5 M848.8 524.3h0.5 M851.3 525.5h0.5 M853.7 526.6h0.5 M839.2 526.4h0.5 M841.6 527.5h0.5 M844.1 528.7h0.5 M846.5 529.9h0.5 M848.9 531.1h0.5 M851.3 532.3h0.5 M836.1 531.6h0.5 M838.5 532.8h0.5 M840.9 533.9h0.5 M843.4 535.1h0.5 M845.8 536.3h0.5 M848.2 537.5h0.5 M832.6 536.5h0.5 M835 537.7h0.5 M837.5 538.9h0.5 M839.9 540.1h0.5 M842.3 541.3h0.5 M844.7 542.5h0.5 M828.7 541.1h0.5 M831.1 542.3h0.5 M833.5 543.5h0.5 M835.9 544.7h0.5 M838.4 545.9h0.5 M840.8 547.1h0.5 M824.5 545.6h0.5 M826.9 546.8h0.5 M829.4 547.9h0.5 M831.8 549.1h0.5 M834.2 550.3h0.5 M836.6 551.5h0.5 M820.2 549.9h0.5 M822.7 551.1h0.5 M825.1 552.3h0.5 M827.5 553.5h0.5 M829.9 554.7h0.5 M815.9 554.2h0.5 M818.4 555.4h0.5 M820.8 556.5h0.5" stroke="#000" stroke-width="1" stroke-linecap="round" fill="none"/>
<path d="M725.3 404 C725.4 400.9 725.6 398.2 726.6 394.5 C727.6 390.8 729.1 388 731.3 382 C733.5 376 736.7 367.6 739.9 358.6 C743.1 349.6 747.4 336.6 750.5 328 C753.6 319.4 756.1 313.8 758.7 307 C761.3 300.2 762.4 296.8 766 287 C769.6 277.2 776.3 259.6 780.5 248.2 C784.7 236.8 787.8 226.7 791.4 218.6 C795 210.5 798 205.5 802.4 199.8 C806.8 194.1 812.8 188.1 818 184.2 C823.2 180.3 828.1 178.2 833.6 176.4 C839.1 174.6 845.3 173.2 850.8 173.2 C856.3 173.2 861.2 174.6 866.4 176.4 C871.6 178.2 877.3 181.1 882 184.2 C886.7 187.3 891.2 190.9 894.6 195.1 C898 199.3 900.7 204.5 902.4 209.2 C904.1 213.9 904.9 218 905 223.2 C905.1 228.4 904.4 234.4 903.2 240.4 C902 246.4 899.7 254 897.7 259.2 C895.7 264.4 894 267.3 891.4 271.7 C888.8 276.1 885.9 279.9 882 285.8 C878.1 291.7 872.4 300.6 868 307 C863.6 313.4 859.9 318.5 855.5 324.2 C851.1 329.9 845.6 336.4 841.4 341.4 C837.2 346.3 833.6 350.3 830.5 353.9 C827.4 357.5 824.5 360.1 822.7 363.2 C820.9 366.3 820.1 369 819.8 372.6 C819.5 376.2 819.7 379.8 821 385 C822.3 390.2 825 397.1 827.4 403.9 C829.8 410.7 832.6 418.8 835.2 425.8 C837.8 432.8 840.1 439.3 843 446 C845.9 452.7 849.7 459.2 852.4 466 C855.1 472.8 857.2 481 859 486.5 C860.8 492 862.1 495.2 863.2 499 C864.3 502.8 865 505.9 865.5 509 C866 512.1 866.2 514.3 866 517.5 C865.8 520.7 865.2 524.6 864.2 528 C863.2 531.4 861.7 534.8 860 538 C858.3 541.2 856.3 544.2 854 547 C851.7 549.8 848.7 552.7 846 554.8 C843.3 556.9 840.5 558.6 838 559.8 C835.5 561 833.3 561.7 831 562.2 C828.7 562.7 826.2 563 824 562.8 C821.8 562.6 820 561.7 818 560.8 C816 559.9 814.3 558.6 812 557.2 C809.7 555.8 806.8 553.9 804 552.2 C801.2 550.5 797.7 548.7 795 546.8 C792.3 544.9 790.2 543.2 788 540.6 C785.8 538 784.3 535.3 782 531 C779.7 526.7 777 521 774 515 C771 509 767.5 502.2 764 495 C760.5 487.8 755.9 477.9 753 472 C750.1 466.1 749.1 464.4 746.6 459.4 C744.1 454.4 740.9 448.2 738 442 C735.1 435.8 731.4 427.2 729.4 422.4 C727.4 417.6 726.6 416.1 725.9 413 C725.2 409.9 725.2 407.1 725.3 404Z" fill="none" stroke="#000" stroke-width="2.4" stroke-linejoin="round"/>
<path d="M885 186.6 C883.5 186.3 878.9 185.1 875.8 185 C872.7 184.9 870.3 184.9 866.4 185.8 C862.5 186.7 857.1 188.1 852.4 190.4 C847.7 192.7 843 195.6 838.3 199.8 C833.6 204 828.6 209.4 824.2 215.4 C819.8 221.4 815.4 228.5 811.8 235.8 C808.2 243.1 806.1 250.7 802.4 259.2 C798.7 267.7 793.2 277.4 789.5 287 C785.8 296.6 783.8 306.3 780 317 C776.2 327.7 770.6 341.2 767 351 C763.4 360.8 761 369.8 758.6 375.8 C756.2 381.8 754.2 383 752.5 387 C750.8 391 749.2 395.8 748.2 400 C747.2 404.2 746.6 408 746.6 412 C746.6 416 747.1 420.2 748 424 C748.9 427.8 750.3 430.8 752 435 C753.7 439.2 755.7 443.7 758 449 C760.3 454.3 762.8 460.2 766 467 C769.2 473.8 773.3 482.5 777 490 C780.7 497.5 784.5 505 788 512 C791.5 519 795.2 526.3 798 532 C800.8 537.7 802.7 541.9 805 546 C807.3 550.1 810.7 555 811.8 556.8" fill="none" stroke="#000" stroke-width="1.1"/>
<path d="M878.7 188.8 L878 189.4 L877.4 189.9 L876.8 190.3 L876.3 190.5 L875.9 190.8 L875.5 190.9 L875 191.1 L874.6 191.1 L874.2 191.1 L873.8 191.1 L873.4 191 L873 190.9 L872.6 190.7 L872.2 190.5 L871.8 190.3 L871.3 190 L870.9 189.6 L870.4 189.2 L869.9 188.6 L869.5 189.3 L869.1 189.9 L868.6 190.5 L868.2 191 L867.7 191.5 L867.3 191.7 L867 191.9 L866.6 192.1 L866.2 192.2 L865.7 192.3 L865.3 192.3 L864.8 192.3 L864.3 192.2 L863.8 192.1 L863.3 191.9 L862.7 191.7 L862.1 191.4 L861.5 191 L861 191.1 L860.7 191.8 L860.4 192.4 L860.1 192.9 L859.7 193.4 L859.3 193.8 L859 194.1 L858.5 194.4 L858.1 194.7 L857.7 194.8 L857.2 194.9 L856.7 195 L856.2 194.9 L855.7 194.9 L855.1 194.8 L854.5 194.6 L853.9 194.4 L853.3 194.2 L852.9 194.4 L852.7 195.1 L852.5 195.7 L852.3 196.2 L852.1 196.7 L851.8 197.2 L851.5 197.6 L851.2 197.9 L850.9 198.3 L850.5 198.5 L850.1 198.7 L849.6 198.9 L849.2 199 L848.7 199.1 L848.1 199.1 L847.5 199.1 L846.9 199 L846.3 198.9 L845.5 198.7 L845.3 199.2 L845.2 200 L845.1 200.6 L844.9 201.2 L844.7 201.8 L844.5 202.3 L844.2 202.7 L843.9 203.1 L843.6 203.4 L843.2 203.7 L842.7 204 L842.2 204.2 L841.7 204.3 L841.2 204.4 L840.7 204.4 L840.1 204.4 L839.5 204.4 L838.8 204.4 L838.6 204.8 L838.6 205.4 L838.6 206.1 L838.5 206.6 L838.4 207.2 L838.3 207.7 L838.1 208.2 L837.9 208.6 L837.6 209 L837.3 209.4 L837 209.7 L836.6 209.9 L836.2 210.2 L835.7 210.4 L835.1 210.5 L834.5 210.6 L833.9 210.7 L833.2 210.8 L832.4 210.7 L832.5 211.5 L832.6 212.2 L832.6 212.9 L832.6 213.5 L832.5 214 L832.3 214.6 L832.1 215.1 L831.9 215.5 L831.6 215.9 L831.3 216.3 L830.9 216.6 L830.4 216.9 L829.9 217.1 L829.3 217.3 L828.7 217.5 L828 217.6 L827.3 217.7 L826.9 218 L827.1 218.7 L827.2 219.3 L827.2 219.9 L827.2 220.5 L827.2 221 L827.1 221.5 L827 222 L826.8 222.4 L826.5 222.9 L826.2 223.2 L825.9 223.6 L825.5 223.9 L825 224.1 L824.5 224.4 L824 224.6 L823.3 224.8 L822.7 224.9 L821.9 225 L822.1 225.7 L822.3 226.4 L822.4 227.1 L822.4 227.7 L822.4 228.3 L822.4 228.8 L822.3 229.3 L822.1 229.8 L821.9 230.2 L821.6 230.7 L821.2 231 L820.8 231.4 L820.4 231.7 L819.8 232 L819.3 232.2 L818.6 232.4 L817.9 232.6 L817.4 232.9 L817.7 233.7 L817.9 234.3 L818 235 L818.1 235.6 L818.1 236.1 L818.1 236.7 L818 237.2 L817.8 237.7 L817.6 238.1 L817.3 238.5 L817 238.9 L816.6 239.2 L816.2 239.5 L815.7 239.8 L815.2 240 L814.6 240.3 L814 240.5 L813.4 240.7 L813.8 241.4 L814 242 L814.2 242.6 L814.3 243.1 L814.4 243.7 L814.5 244.2 L814.5 244.7 L814.4 245.2 L814.3 245.6 L814.1 246 L813.9 246.5 L813.6 246.8 L813.2 247.2 L812.8 247.6 L812.3 247.9 L811.8 248.2 L811.2 248.5 L810.5 248.8 L810.3 249.3 L810.7 249.9 L811 250.6 L811.2 251.2 L811.3 251.8 L811.4 252.3 L811.4 252.9 L811.3 253.4 L811.2 253.9 L811 254.4 L810.7 254.9 L810.4 255.3 L809.9 255.7 L809.4 256.1 L808.9 256.5 L808.2 256.8 L807.5 257.1 L807.2 257.6 L807.5 258.3 L807.8 259 L807.9 259.7 L808 260.4 L808.1 261 L808 261.6 L807.9 262.1 L807.7 262.6 L807.5 263 L807.2 263.4 L806.8 263.8 L806.4 264.1 L805.9 264.4 L805.4 264.7 L804.8 265 L804.1 265.2 L803.3 265.4 L803.7 266.1 L804 266.8 L804.1 267.4 L804.2 268 L804.3 268.6 L804.3 269.1 L804.2 269.7 L804.1 270.2 L803.9 270.6 L803.6 271.1 L803.3 271.5 L802.9 271.9 L802.5 272.2 L802 272.5 L801.4 272.8 L800.8 273.1 L800.1 273.3 L799.6 273.6 L799.9 274.3 L800.1 275 L800.2 275.6 L800.3 276.2 L800.4 276.8 L800.3 277.4 L800.2 277.9 L800.1 278.4 L799.9 278.8 L799.6 279.3 L799.2 279.7 L798.8 280 L798.3 280.4 L797.8 280.7 L797.2 280.9 L796.6 281.2 L795.8 281.4 L795.9 282 L796.2 282.7 L796.4 283.3 L796.5 284 L796.6 284.5 L796.7 285.1 L796.6 285.6 L796.5 286.1 L796.4 286.6 L796.1 287 L795.9 287.4 L795.5 287.8 L795.1 288.1 L794.7 288.5 L794.2 288.8 L793.6 289.1 L793 289.4 L792.2 289.6 L792.6 290.2 L792.9 290.9 L793.1 291.5 L793.3 292 L793.4 292.6 L793.5 293.1 L793.5 293.6 L793.5 294.1 L793.4 294.5 L793.2 295 L793 295.4 L792.7 295.8 L792.4 296.2 L792 296.6 L791.5 297 L791 297.3 L790.5 297.6 L789.8 297.9 L789.7 298.4 L790 299 L790.3 299.6 L790.6 300.2 L790.7 300.8 L790.9 301.3 L790.9 301.9 L790.9 302.4 L790.8 302.9 L790.7 303.3 L790.5 303.8 L790.2 304.2 L789.9 304.7 L789.5 305.1 L789 305.5 L788.5 305.8 L787.9 306.2 L787.2 306.5 L787.2 307.1 L787.6 307.7 L787.9 308.3 L788.1 308.9 L788.3 309.5 L788.4 310.1 L788.4 310.7 L788.4 311.2 L788.2 311.7 L788 312.2 L787.8 312.7 L787.4 313.2 L787 313.6 L786.5 314 L785.9 314.4 L785.3 314.7 L784.5 315.1 L784.7 315.7 L785 316.4 L785.3 317.1 L785.5 317.7 L785.6 318.4 L785.6 319 L785.6 319.5 L785.5 320 L785.4 320.4 L785.1 320.9 L784.8 321.3 L784.5 321.7 L784.1 322.1 L783.6 322.5 L783.1 322.8 L782.4 323.1 L781.7 323.4 L781.5 323.9 L781.9 324.6 L782.2 325.2 L782.3 325.8 L782.5 326.4 L782.5 327 L782.5 327.6 L782.5 328.1 L782.3 328.6 L782.1 329.1 L781.8 329.6 L781.4 330 L781 330.4 L780.5 330.8 L779.9 331.1 L779.3 331.4 L778.5 331.7 L778.4 332.3 L778.7 333 L779 333.6 L779.2 334.3 L779.3 334.9 L779.3 335.5 L779.3 336.1 L779.2 336.6 L779 337.1 L778.8 337.6 L778.4 338 L778 338.4 L777.6 338.8 L777.1 339.2 L776.5 339.5 L775.8 339.8 L775.1 340.1 L775.2 340.7 L775.5 341.4 L775.8 342 L775.9 342.6 L776 343.2 L776.1 343.8 L776 344.3 L775.9 344.8 L775.8 345.3 L775.6 345.7 L775.3 346.2 L774.9 346.6 L774.6 346.9 L774.1 347.3 L773.6 347.6 L773 347.9 L772.4 348.2 L771.7 348.4 L772 349 L772.3 349.6 L772.5 350.2 L772.7 350.7 L772.8 351.3 L772.9 351.8 L772.9 352.2 L772.9 352.7 L772.8 353.1 L772.6 353.7 L772.4 354.2 L772 354.7 L771.6 355.1 L771.1 355.6 L770.5 356 L769.8 356.3 L769 356.7 L769 357.3 L769.3 358 L769.6 358.7 L769.8 359.3 L770 360 L770 360.6 L770 361.1 L769.9 361.7 L769.7 362.2 L769.5 362.7 L769.1 363.1 L768.7 363.6 L768.3 364 L767.7 364.4 L767.1 364.7 L766.4 365 L766 365.5 L766.4 366.1 L766.7 366.8 L767 367.4 L767.1 368 L767.2 368.5 L767.3 369 L767.3 369.6 L767.2 370 L767 370.5 L766.8 370.9 L766.6 371.4 L766.3 371.8 L765.9 372.1 L765.5 372.5 L765 372.8 L764.5 373.1 L763.9 373.4 L763.3 373.6 L763.4 374.1 L763.7 374.7 L763.9 375.2 L764.1 375.8 L764.2 376.3 L764.3 376.7 L764.3 377.2 L764.3 377.7 L764.2 378.1 L764 378.9 L763.6 379.6 L763.1 380.2 L762.5 380.8 L761.7 381.2 L761 381.5 L760.1 381.8 L759.7 382.2 L759.9 383 L760.1 383.7 L760.1 384.4 L760.1 385 L760 385.5 L759.9 386 L759.8 386.4 L759.7 386.7 L759.5 387.1 L759.3 387.4 L759.1 387.6 L758.8 387.8 L758.5 388.1 L758.2 388.3 L757.9 388.5 L757.4 388.7 L756.9 389 L756.4 389.2 L755.8 389.4 L755.2 389.7 L755.6 390.4 L755.9 391 L756.1 391.6 L756.3 392.2 L756.4 392.7 L756.4 393.2 L756.4 393.8 L756.3 394.2 L756.2 394.7 L756 395.2 L755.7 395.6 L755.4 396 L755 396.4 L754.6 396.7 L754.1 397.1 L753.5 397.4 L752.9 397.8 L752.4 398.1 L752.8 398.7 L753.2 399.3 L753.4 399.9 L753.6 400.4 L753.8 400.9 L753.9 401.3 L754 401.9 L754 402.4 L753.9 402.9 L753.8 403.3 L753.6 403.8 L753.3 404.2 L753 404.6 L752.7 405 L752.3 405.4 L751.8 405.8 L751.3 406.2 L750.7 406.6 L750.8 407 L751.3 407.6 L751.6 408.1 L752 408.5 L752.2 409 L752.4 409.5 L752.6 409.9 L752.7 410.3 L752.8 410.8 L752.8 411.2 L752.8 411.6 L752.7 412 L752.5 412.5 L752.3 412.9 L752.1 413.4 L751.8 413.8 L751.4 414.3 L751 414.8 L750.5 415.3 L750.5 415.7" fill="none" stroke="#000" stroke-width="2.1" stroke-linejoin="round"/>
<path d="M750.5 415.7 L751.1 416.2 L751.6 416.6 L752 417 L752.4 417.4 L752.7 417.8 L753 418.3 L753.2 418.7 L753.3 419.1 L753.4 419.5 L753.5 420 L753.4 420.5 L753.4 420.9 L753.3 421.4 L753.1 421.9 L752.9 422.4 L752.6 422.9 L752.3 423.4 L751.9 424 L752 424.4 L752.6 424.7 L753.1 425 L753.6 425.3 L754.1 425.6 L754.4 425.9 L754.8 426.2 L755.1 426.6 L755.4 426.9 L755.6 427.3 L755.7 427.8 L755.8 428.2 L755.9 428.7 L755.9 429.3 L755.8 429.9 L755.7 430.5 L755.5 431.1 L755.2 431.8 L754.7 432.6 L755.7 432.9 L756.4 433.2 L756.9 433.5 L757.4 433.8 L757.8 434.1 L758.1 434.4 L758.5 434.8 L758.7 435.2 L758.9 435.6 L759.1 436 L759.2 436.5 L759.3 437 L759.3 437.5 L759.2 438 L759.1 438.6 L758.9 439.2 L758.7 439.9 L758.4 440.5 L758.7 441 L759.4 441.2 L760.1 441.5 L760.6 441.8 L761.1 442.2 L761.6 442.5 L762 443 L762.3 443.4 L762.5 443.9 L762.7 444.4 L762.8 445 L762.8 445.6 L762.7 446.3 L762.6 447 L762.4 447.6 L762.2 448.1 L761.9 448.8 L762.3 449.1 L762.9 449.3 L763.5 449.6 L764 449.9 L764.5 450.2 L764.9 450.5 L765.3 450.8 L765.6 451.2 L765.9 451.6 L766.1 452 L766.2 452.5 L766.3 453 L766.4 453.5 L766.4 454 L766.3 454.6 L766.1 455.2 L766 455.8 L765.7 456.5 L765.4 457.2 L766.2 457.4 L766.9 457.6 L767.5 457.9 L768 458.3 L768.5 458.6 L768.9 459 L769.3 459.4 L769.6 459.9 L769.8 460.4 L769.9 460.9 L770 461.5 L770 462.1 L769.9 462.7 L769.8 463.4 L769.5 464.1 L769.2 464.9 L769.5 465.4 L770.2 465.6 L770.7 465.8 L771.3 466.1 L771.7 466.4 L772.2 466.7 L772.6 467 L772.9 467.4 L773.2 467.8 L773.4 468.2 L773.6 468.7 L773.7 469.2 L773.7 469.7 L773.7 470.3 L773.6 470.8 L773.5 471.5 L773.3 472.1 L773 472.8 L773.1 473.4 L773.8 473.6 L774.5 473.8 L775.1 474.1 L775.6 474.4 L776.1 474.8 L776.5 475.2 L776.9 475.6 L777.1 476 L777.3 476.5 L777.5 477 L777.5 477.6 L777.5 478.2 L777.5 478.8 L777.4 479.4 L777.2 480.1 L776.9 480.8 L777 481.4 L777.7 481.6 L778.4 481.9 L779 482.2 L779.5 482.5 L780 482.8 L780.4 483.2 L780.7 483.6 L781 484.1 L781.2 484.6 L781.3 485.1 L781.4 485.6 L781.4 486.2 L781.4 486.7 L781.3 487.4 L781.1 488 L780.8 488.7 L780.6 489.4 L781.4 489.5 L782.1 489.8 L782.7 490 L783.2 490.3 L783.7 490.7 L784.1 491 L784.5 491.4 L784.8 491.8 L785 492.3 L785.2 492.8 L785.3 493.3 L785.4 493.8 L785.3 494.4 L785.3 495 L785.1 495.7 L784.9 496.3 L784.6 497 L785 497.4 L785.7 497.6 L786.4 497.9 L786.9 498.1 L787.4 498.4 L787.9 498.8 L788.3 499.2 L788.6 499.5 L788.9 500 L789.1 500.4 L789.2 500.9 L789.3 501.4 L789.3 502 L789.3 502.6 L789.2 503.2 L789.1 503.8 L788.8 504.5 L788.5 505.2 L789.2 505.4 L789.9 505.6 L790.5 505.9 L791 506.1 L791.5 506.4 L791.9 506.8 L792.3 507.1 L792.6 507.5 L792.9 507.9 L793.1 508.4 L793.2 508.8 L793.3 509.3 L793.3 509.9 L793.3 510.5 L793.2 511.2 L793 511.9 L792.8 512.6 L792.7 513.2 L793.5 513.4 L794.2 513.7 L794.8 514 L795.4 514.3 L795.9 514.7 L796.3 515.1 L796.6 515.5 L796.9 515.9 L797.1 516.4 L797.2 517 L797.3 517.5 L797.3 518.1 L797.2 518.7 L797.1 519.4 L796.9 520.1 L796.6 520.8 L796.9 521.3 L797.6 521.5 L798.3 521.7 L798.9 522 L799.4 522.3 L799.8 522.6 L800.2 523 L800.6 523.4 L800.8 523.8 L801 524.3 L801.2 524.7 L801.3 525.2 L801.3 525.8 L801.3 526.3 L801.2 526.9 L801.1 527.5 L800.9 528.1 L800.7 528.7 L800.7 529.2 L801.4 529.3 L802 529.5 L802.5 529.8 L803.1 530.1 L803.7 530.5 L804.2 530.9 L804.6 531.4 L804.9 531.9 L805.1 532.4 L805.2 533 L805.3 533.6 L805.2 534.2 L805.2 534.8 L805 535.5 L804.8 536.1 L804.5 536.8 L804.9 537.2 L805.6 537.4 L806.2 537.7 L806.7 537.9 L807.2 538.2 L807.6 538.5 L808 538.8 L808.3 539.2 L808.6 539.6 L808.8 539.9 L809 540.4 L809.1 540.8 L809.2 541.2 L809.2 541.7 L809.2 542.2 L809.1 542.7 L809 543.3 L808.9 543.8 L808.6 544.6 L808.9 545.1 L809.7 545.3 L810.4 545.5 L811.1 545.8 L811.7 546.1 L812.2 546.4 L812.6 546.8 L813 547.3 L813.3 547.7 L813.5 548.3 L813.6 548.9 L813.7 549.5 L813.7 550.1 L813.6 550.8" fill="none" stroke="#000" stroke-width="2.9" stroke-linejoin="round"/>
</g>
<g stroke-linecap="round" stroke-linejoin="round">
<path d="M408.1 478 L406.9 477.4 L405.7 477 L404.3 476.8 L402.9 476.7 L401.5 476.8 L400 477 L398.5 477.4 L396.9 478 L395.3 478.7 L393.8 479.6 L392.2 480.6 L390.6 481.7 L389.1 483 L387.5 484.4 L386.1 485.9 L384.6 487.5 L383.3 489.3 L382 491.1 L380.7 492.9 L379.6 494.9 L378.5 496.9 L377.5 498.9 L376.7 500.9 L375.9 503 L375.3 505.1 L374.8 507.1 L374.3 509.1 L374 511.1 L373.9 513.1 L373.8 514.9 L373.9 516.7 L374.1 518.4 L374.4 520.1 L374.9 521.6 L375.5 523 L376.1 524.3 L376.9 525.4 L377.8 526.4 L378.8 527.3 L379.9 528 L401.6 540.4 L402.9 541 L404.2 541.4 L405.6 541.7 L407 541.9 L408.6 541.8 L410.1 541.6 L411.7 541.2 L413.3 540.7 L415 540 L416.6 539.2 L418.2 538.2 L419.9 537.1 L421.4 535.9 L423 534.5 L424.5 533 L426 531.4 L427.4 529.7 L428.7 527.9 L429.9 526 L431.1 524.1 L432.1 522.1 L433.1 520 L433.9 518 L434.7 515.9 L435.3 513.8 L435.8 511.8 L436.2 509.7 L436.4 507.7 L436.5 505.8 L436.5 503.9 L436.4 502 L436.1 500.3 L435.7 498.6 L435.2 497.1 L434.6 495.6 L433.9 494.3 L433 493.1 L432 492.1 L431 491.2 L429.8 490.4Z" fill="#fff" stroke="#000" stroke-width="3.2"/>
<path d="M375.4 506.4 L390.6 515" stroke="#000" stroke-width="1.4" fill="none"/>
<path d="M374.6 510.5 L390.9 519.7" stroke="#000" stroke-width="2.2" fill="none"/>
<path d="M374.3 514.4 L391.7 524.2" stroke="#000" stroke-width="2.4" fill="none"/>
<path d="M374.7 516.8 L374.8 517.9 L375 519 L375.3 520.1 L375.6 521.1 L376 522 L376.4 522.9 L376.9 523.7 L377.4 524.5 L378 525.2 L378.6 525.8 L398.1 536.8 L397.5 536.2 L396.9 535.5 L396.4 534.7 L395.9 533.9 L395.5 533 L395.1 532.1 L394.8 531.1 L394.5 530 L394.3 528.9 L394.2 527.8Z" fill="#000" stroke="#000" stroke-width="0.8"/>
<path d="M406.6 479.2 L420.4 487" stroke="#000" stroke-width="1.1" fill="none"/>
<path d="M405.2 479.9 L418.6 487.4" stroke="#000" stroke-width="1.1" fill="none"/>
<path d="M429.8 490.4 L431 491.2 L432 492.1 L433 493.1 L433.9 494.3 L434.6 495.6 L435.2 497.1 L435.7 498.6 L436.1 500.3 L436.4 502 L436.5 503.9 L436.5 505.8 L436.4 507.7 L436.2 509.7 L435.8 511.8 L435.3 513.8 L434.7 515.9 L433.9 518 L433.1 520 L432.1 522.1 L431.1 524.1 L429.9 526 L428.7 527.9 L427.4 529.7 L426 531.4 L424.5 533 L423 534.5 L421.4 535.9 L419.9 537.1 L418.2 538.2 L416.6 539.2 L415 540 L413.3 540.7 L411.7 541.2 L410.1 541.6 L408.6 541.8 L407 541.9 L405.6 541.7 L404.2 541.4 L402.9 541 L401.6 540.4 L400.4 539.6 L399.4 538.7 L398.4 537.7 L397.5 536.5 L396.8 535.2 L396.2 533.7 L395.7 532.2 L395.3 530.5 L395 528.8 L394.9 526.9 L394.9 525 L395 523.1 L395.2 521.1 L395.6 519 L396.1 517 L396.7 514.9 L397.5 512.8 L398.3 510.8 L399.3 508.7 L400.3 506.7 L401.5 504.8 L402.7 502.9 L404 501.1 L405.4 499.4 L406.9 497.8 L408.4 496.3 L410 494.9 L411.5 493.7 L413.2 492.6 L414.8 491.6 L416.4 490.8 L418.1 490.1 L419.7 489.6 L421.3 489.2 L422.8 489 L424.4 488.9 L425.8 489.1 L427.2 489.4 L428.5 489.8 L429.8 490.4" fill="#fff" stroke="none"/>
<path d="M432.7 521 L431.8 522.7 L430.9 524.4 L429.9 526 L428.9 527.6 L427.8 529.1 L426.6 530.6 L425.4 532 L424.1 533.4 L422.8 534.6 L421.5 535.8 L420.2 536.9 L418.8 537.9 L417.4 538.8 L416 539.5 L414.6 540.2 L413.2 540.8 L411.8 541.2 L410.5 541.5 L409.1 541.8 L407.8 541.9 L406.6 541.8 L405.3 541.7 L404.1 541.4 L403 541.1 L401.9 540.6 L400.9 540 L400 539.3 L399.1 538.4 L398.3 537.5 L397.5 536.5 L396.9 535.4 L396.3 534.2 L395.9 532.9 L395.5 531.5 L395.2 530.1 L395 528.6 L394.9 527 L394.8 525.4 L394.9 523.7 L395.1 522 L395.4 520.3 L395.7 518.6 L396.1 516.8 L396.7 515 L397.3 513.3 L398 511.5 L398.8 509.8 L399.6 508.1 L400.5 506.4 L401.5 504.7 L402.6 503.1 L403.7 501.6 L404.9 500.1 L406.1 498.7 L407.3 497.4 L408.6 496.1 L410 494.9 L411.3 493.9 L412.7 492.9 L414.1 492 L415.5 491.2 L416.9 490.6 L418.2 490 L419.6 489.6 L421 489.2 L422.3 489 L423.6 488.9 L424.9 489 L426.1 489.1 L427.3 489.4 L428.4 489.8 L429.5 490.3 L430.5 490.9 L431.5 491.6 L432.4 492.4 L433.2 493.3 L433.9 494.4 L434.5 495.5 L435.1 496.7 L435.6 498 L435.9 499.3 L436.2 500.8 L436.4 502.3 L436.5 503.9 L436.5 505.5 L436.5 507.1 L436.3 508.8 L436 510.6 L435.7 512.3 L435.2 514.1" fill="none" stroke="#000" stroke-width="2.9"/>
<path d="M428.4 520.5 L427.7 521.8 L426.9 523.2 L426.1 524.4 L425.2 525.7 L424.3 526.9 L423.3 528 L422.3 529.1 L421.3 530.1 L420.2 531 L419.1 531.9 L418 532.7 L416.9 533.4 L415.8 534.1 L414.7 534.6 L413.6 535.1 L412.5 535.5 L411.4 535.8 L410.3 536 L409.2 536.1 L408.2 536.2 L407.2 536.1 L406.2 536 L405.2 535.7 L404.4 535.4 L403.5 534.9 L402.7 534.4 L401.9 533.8 L401.3 533.2 L400.6 532.4 L400 531.6 L399.5 530.7 L399.1 529.7 L398.7 528.7 L398.4 527.6 L398.2 526.4 L398 525.2 L397.9 523.9 L397.9 522.7 L397.9 521.3 L398 520 L398.2 518.6 L398.5 517.2 L398.8 515.8 L399.3 514.4 L399.7 513 L400.3 511.6 L400.9 510.2 L401.5 508.8 L402.2 507.4 L403 506.1 L403.8 504.8 L404.7 503.6 L405.6 502.4 L406.6 501.2 L407.5 500.1 L408.6 499.1 L409.6 498.1 L410.7 497.2 L411.8 496.4 L412.9 495.6 L414 494.9 L415.1 494.3 L416.2 493.8 L417.3 493.4 L418.5 493.1 L419.5 492.8 L420.6 492.7 L421.7 492.6 L422.7 492.7 L423.7 492.8 L424.6 493 L425.5 493.3 L426.4 493.7 L427.2 494.2 L428 494.7 L428.7 495.4 L429.4 496.1 L430 496.9 L430.5 497.8 L431 498.7 L431.4 499.8 L431.7 500.8 L432 502 L432.2 503.2 L432.3 504.4 L432.3 505.7 L432.3 507 L432.2 508.3 L432 509.7 L431.8 511.1" fill="none" stroke="#000" stroke-width="2.3"/>
<path d="M432.7 521 L428.4 520.5" fill="none" stroke="#000" stroke-width="2.3"/>
<path d="M434.8 515.5 L433.5 519.1" fill="none" stroke="#fff" stroke-width="3.6" stroke-linecap="butt"/>
<path d="M405.8 536.1 L404.9 535.8 L404 535.4 L403.2 535 L402.4 534.5 L401.7 533.9 L401 533.2 L400.4 532.4 L399.8 531.6 L399.3 530.7 L398.9 529.7 L398.5 528.6 L398.2 527.5 L398 526.4 L397.8 525.2 L397.7 523.9 L397.7 522.7 L397.8 521.3 L397.9 520 L398.1 518.6 L398.4 517.2 L398.7 515.8 L399.1 514.4 L399.6 513 L400.1 511.6 L400.7 510.2 L401.3 508.9 L402 507.5 L402.8 506.2 L403.6 504.9 L404.5 503.7" fill="none" stroke="#000" stroke-width="2.8"/>
<ellipse cx="415" cy="514.9" rx="18.4" ry="11.8" transform="rotate(-60.6 415 514.9)" fill="none" stroke="#000" stroke-width="1.3" />
<path d="M407.4 505.2 L408 504.5 L408.5 503.9 L409.1 503.3 L409.7 502.7 L410.3 502.2 L410.9 501.7 L411.5 501.2 L412.1 500.7 L412.7 500.3 L413.3 499.9 L414 499.6 L414.6 499.2 L415.2 498.9 L415.9 498.7 L416.5 498.5 L417.1 498.3 L417.8 498.1 L418.4 498 L419 497.9 L419.6 497.9 L420.2 497.9 L420.8 497.9 L421.4 498 L421.9 498.1 L422.5 498.2 L423 498.4 L423.5 498.6 L424 498.8 L424.4 499.1 L424.9 499.4" fill="none" stroke="#000" stroke-width="2.4"/>
<path d="M419.4 528.1 L418.7 528.7 L417.9 529.2 L417.2 529.7 L416.4 530.2 L415.7 530.6 L414.9 531 L414.1 531.3 L413.4 531.5 L412.6 531.8 L411.9 531.9 L411.1 532 L410.4 532.1 L409.7 532.1 L409 532.1 L408.3 532 L407.7 531.8 L407 531.6 L406.4 531.4 L405.8 531.1 L405.3 530.7 L404.8 530.3 L404.3 529.9 L403.8 529.4 L403.4 528.9 L403 528.3 L402.6 527.7 L402.3 527 L402 526.3 L401.8 525.6 L401.6 524.8" fill="none" stroke="#000" stroke-width="2.2"/>
<path d="M425.5 498.9 L427.8 496.3" stroke="#000" stroke-width="1" fill="none"/>
<path d="M426.7 500.1 L429.1 497.8" stroke="#000" stroke-width="1" fill="none"/>
<path d="M427.8 501.7 L430.1 499.7" stroke="#000" stroke-width="1" fill="none"/>
<path d="M428.5 503.4 L430.8 501.8" stroke="#000" stroke-width="1" fill="none"/>
<path d="M429 505.4 L431.3 504.2" stroke="#000" stroke-width="1" fill="none"/>
<path d="M429.2 507.6 L431.4 506.8" stroke="#000" stroke-width="1" fill="none"/>
<path d="M429.2 510 L431.2 509.5" stroke="#000" stroke-width="1" fill="none"/>
<ellipse cx="412.3" cy="506.8" rx="6.4" ry="4.1" transform="rotate(-62 412.3 506.8)" fill="#fff" stroke="#000" stroke-width="2.5"/>
<circle cx="403.3" cy="521.3" r="2.7" fill="#000"/>
<circle cx="419.3" cy="515.8" r="2.9" fill="#000"/>
<path d="M408.3 524.3 l2.4 -1.7 l1 0.9 l3.4 -2.3" stroke="#000" stroke-width="1.4" fill="none"/>
<path d="M407.3 525.1 l2.8 -2.4 l0.7 2.1z" fill="#000" stroke="#000" stroke-width="0.9"/>
<path d="M412.1 505.6 L426.1 513.2" stroke="#000" stroke-width="1.6" fill="none"/>
</g>
<g stroke-linecap="round" stroke-linejoin="round">
<path d="M889.1 345 L887.9 344.4 L886.7 344 L885.3 343.8 L883.9 343.7 L882.5 343.8 L881 344 L879.5 344.4 L877.9 345 L876.3 345.7 L874.8 346.6 L873.2 347.6 L871.6 348.7 L870.1 350 L868.5 351.4 L867.1 352.9 L865.6 354.5 L864.3 356.3 L863 358.1 L861.7 359.9 L860.6 361.9 L859.5 363.9 L858.5 365.9 L857.7 367.9 L856.9 370 L856.3 372.1 L855.8 374.1 L855.3 376.1 L855 378.1 L854.9 380.1 L854.8 381.9 L854.9 383.7 L855.1 385.4 L855.4 387.1 L855.9 388.6 L856.5 390 L857.1 391.3 L857.9 392.4 L858.8 393.4 L859.8 394.3 L860.9 395 L882.6 407.4 L883.9 408 L885.2 408.4 L886.6 408.7 L888 408.9 L889.6 408.8 L891.1 408.6 L892.7 408.2 L894.3 407.7 L896 407 L897.6 406.2 L899.2 405.2 L900.9 404.1 L902.4 402.9 L904 401.5 L905.5 400 L907 398.4 L908.4 396.7 L909.7 394.9 L910.9 393 L912.1 391.1 L913.1 389.1 L914.1 387 L914.9 385 L915.7 382.9 L916.3 380.8 L916.8 378.8 L917.2 376.7 L917.4 374.7 L917.5 372.8 L917.5 370.9 L917.4 369 L917.1 367.3 L916.7 365.6 L916.2 364.1 L915.6 362.6 L914.9 361.3 L914 360.1 L913 359.1 L912 358.2 L910.8 357.4Z" fill="#fff" stroke="#000" stroke-width="3.2"/>
<path d="M856.4 373.4 L871.6 382" stroke="#000" stroke-width="1.4" fill="none"/>
<path d="M855.6 377.5 L871.9 386.7" stroke="#000" stroke-width="2.2" fill="none"/>
<path d="M855.3 381.4 L872.7 391.2" stroke="#000" stroke-width="2.4" fill="none"/>
<path d="M855.7 383.8 L855.8 384.9 L856 386 L856.3 387.1 L856.6 388.1 L857 389 L857.4 389.9 L857.9 390.7 L858.4 391.5 L859 392.2 L859.6 392.8 L879.1 403.8 L878.5 403.2 L877.9 402.5 L877.4 401.7 L876.9 400.9 L876.5 400 L876.1 399.1 L875.8 398.1 L875.5 397 L875.3 395.9 L875.2 394.8Z" fill="#000" stroke="#000" stroke-width="0.8"/>
<path d="M887.6 346.2 L901.4 354" stroke="#000" stroke-width="1.1" fill="none"/>
<path d="M886.2 346.9 L899.6 354.4" stroke="#000" stroke-width="1.1" fill="none"/>
<ellipse cx="896.7" cy="382.4" rx="28.7" ry="17.7" transform="rotate(-60.6 896.7 382.4)" fill="#fff" stroke="#000" stroke-width="2.9" />
<ellipse cx="896.1" cy="381.4" rx="23.6" ry="14.6" transform="rotate(-60.6 896.1 381.4)" fill="none" stroke="#000" stroke-width="2.3" />
<path d="M886.8 403.1 L885.9 402.8 L885 402.4 L884.2 402 L883.4 401.5 L882.7 400.9 L882 400.2 L881.4 399.4 L880.8 398.6 L880.3 397.7 L879.9 396.7 L879.5 395.6 L879.2 394.5 L879 393.4 L878.8 392.2 L878.7 390.9 L878.7 389.7 L878.8 388.3 L878.9 387 L879.1 385.6 L879.4 384.2 L879.7 382.8 L880.1 381.4 L880.6 380 L881.1 378.6 L881.7 377.2 L882.3 375.9 L883 374.5 L883.8 373.2 L884.6 371.9 L885.5 370.7" fill="none" stroke="#000" stroke-width="2.8"/>
<ellipse cx="896" cy="381.9" rx="18.4" ry="11.8" transform="rotate(-60.6 896 381.9)" fill="none" stroke="#000" stroke-width="1.3" />
<path d="M888.4 372.2 L889 371.5 L889.5 370.9 L890.1 370.3 L890.7 369.7 L891.3 369.2 L891.9 368.7 L892.5 368.2 L893.1 367.7 L893.7 367.3 L894.3 366.9 L895 366.6 L895.6 366.2 L896.2 365.9 L896.9 365.7 L897.5 365.5 L898.1 365.3 L898.8 365.1 L899.4 365 L900 364.9 L900.6 364.9 L901.2 364.9 L901.8 364.9 L902.4 365 L902.9 365.1 L903.5 365.2 L904 365.4 L904.5 365.6 L905 365.8 L905.4 366.1 L905.9 366.4" fill="none" stroke="#000" stroke-width="2.4"/>
<path d="M900.4 395.1 L899.7 395.7 L898.9 396.2 L898.2 396.7 L897.4 397.2 L896.7 397.6 L895.9 398 L895.1 398.3 L894.4 398.5 L893.6 398.8 L892.9 398.9 L892.1 399 L891.4 399.1 L890.7 399.1 L890 399.1 L889.3 399 L888.7 398.8 L888 398.6 L887.4 398.4 L886.8 398.1 L886.3 397.7 L885.8 397.3 L885.3 396.9 L884.8 396.4 L884.4 395.9 L884 395.3 L883.6 394.7 L883.3 394 L883 393.3 L882.8 392.6 L882.6 391.8" fill="none" stroke="#000" stroke-width="2.2"/>
<path d="M906.5 365.9 L908.8 363.3" stroke="#000" stroke-width="1" fill="none"/>
<path d="M907.7 367.1 L910.1 364.8" stroke="#000" stroke-width="1" fill="none"/>
<path d="M908.8 368.7 L911.1 366.7" stroke="#000" stroke-width="1" fill="none"/>
<path d="M909.5 370.4 L911.8 368.8" stroke="#000" stroke-width="1" fill="none"/>
<path d="M910 372.4 L912.3 371.2" stroke="#000" stroke-width="1" fill="none"/>
<path d="M910.2 374.6 L912.4 373.8" stroke="#000" stroke-width="1" fill="none"/>
<path d="M910.2 377 L912.2 376.5" stroke="#000" stroke-width="1" fill="none"/>
<ellipse cx="893.3" cy="373.8" rx="6.4" ry="4.1" transform="rotate(-62 893.3 373.8)" fill="#fff" stroke="#000" stroke-width="2.5"/>
<circle cx="884.3" cy="388.3" r="2.7" fill="#000"/>
<circle cx="900.3" cy="382.8" r="2.9" fill="#000"/>
<path d="M889.3 391.3 l2.4 -1.7 l1 0.9 l3.4 -2.3" stroke="#000" stroke-width="1.4" fill="none"/>
<path d="M888.3 392.1 l2.8 -2.4 l0.7 2.1z" fill="#000" stroke="#000" stroke-width="0.9"/>
</g>
<g stroke-linejoin="round" stroke-linecap="round">
<path d="M664.1 460.3 L662.4 459.4 L660.6 458.7 L658.8 458.1 L656.8 457.8 L654.8 457.5 L652.8 457.4 L650.6 457.5 L648.5 457.7 L646.3 458.1 L644 458.7 L641.8 459.4 L639.5 460.3 L637.1 461.3 L634.8 462.4 L632.5 463.8 L630.2 465.2 L627.8 466.8 L625.5 468.5 L623.2 470.4 L621 472.3 L618.7 474.4 L616.6 476.6 L614.4 478.9 L612.3 481.4 L610.3 483.9 L608.3 486.4 L606.4 489.1 L604.6 491.9 L602.8 494.7 L601.1 497.5 L599.6 500.5 L598.1 503.4 L596.7 506.4 L595.4 509.4 L594.2 512.4 L593.1 515.5 L592.1 518.5 L591.2 521.6 L590.5 524.6 L589.8 527.6 L589.3 530.5 L588.9 533.4 L588.6 536.3 L588.5 539.1 L588.5 541.8 L588.5 544.5 L588.8 547.1 L589.1 549.6 L589.5 552 L590.1 554.3 L590.8 556.5 L591.6 558.6 L592.5 560.6 L593.5 562.5 L594.7 564.2 L595.9 565.8 L597.3 567.2 L598.7 568.5 L600.2 569.7 L601.9 570.7 L622.4 582.2 L624.1 583.1 L625.9 583.8 L627.7 584.4 L629.7 584.7 L631.7 585 L633.7 585.1 L635.9 585 L638 584.8 L640.2 584.4 L642.5 583.8 L644.7 583.1 L647 582.2 L649.4 581.2 L651.7 580.1 L654 578.7 L656.3 577.3 L658.7 575.7 L661 574 L663.3 572.1 L665.5 570.2 L667.8 568.1 L669.9 565.9 L672.1 563.6 L674.2 561.1 L676.2 558.6 L678.2 556.1 L680.1 553.4 L681.9 550.6 L683.7 547.8 L685.4 545 L686.9 542 L688.4 539.1 L689.8 536.1 L691.1 533.1 L692.3 530.1 L693.4 527 L694.4 524 L695.3 520.9 L696 517.9 L696.7 514.9 L697.2 512 L697.6 509.1 L697.9 506.2 L698 503.4 L698 500.7 L698 498 L697.7 495.4 L697.4 492.9 L697 490.5 L696.4 488.2 L695.7 486 L694.9 483.9 L694 481.9 L693 480 L691.8 478.3 L690.6 476.7 L689.2 475.3 L687.8 474 L686.3 472.8 L684.6 471.8Z" fill="#fff" stroke="none"/>
<path d="M655.5 457.6 L675.8 469.6" stroke="#000" stroke-width="2.1" fill="none"/>
<path d="M651.4 457.5 L671.7 469.5" stroke="#000" stroke-width="2.8" fill="none"/>
<path d="M647 458 L667.4 470" stroke="#000" stroke-width="3.5" fill="none"/>
<path d="M642.5 459.2 L662.9 471.2" stroke="#000" stroke-width="4.1" fill="none"/>
<path d="M637.9 460.9 L658.4 472.9" stroke="#000" stroke-width="4.7" fill="none"/>
<path d="M633.3 463.3 L653.8 475.3" stroke="#000" stroke-width="5.2" fill="none"/>
<path d="M628.6 466.2 L649.1 478.2" stroke="#000" stroke-width="5.7" fill="none"/>
<path d="M624 469.7 L644.6 481.7" stroke="#000" stroke-width="6.1" fill="none"/>
<path d="M619.5 473.7 L640.1 485.6" stroke="#000" stroke-width="6.5" fill="none"/>
<path d="M615.1 478.2 L635.8 490 M592.4 517.5 L613.3 529" stroke="#000" stroke-width="6.8" fill="none"/>
<path d="M611 483 L631.7 494.8 M594.6 511.4 L615.4 523" stroke="#000" stroke-width="7" fill="none"/>
<path d="M607 488.2 L627.8 500" stroke="#000" stroke-width="7.1" fill="none"/>
<path d="M603.4 493.7 L624.2 505.4 M600.1 499.5 L620.9 511.1 M597.1 505.4 L618 517" stroke="#000" stroke-width="7.2" fill="none"/>
<path d="M590.7 523.6 L611.6 535" stroke="#000" stroke-width="6.6" fill="none"/>
<path d="M589.5 529.5 L610.4 540.9" stroke="#000" stroke-width="6.2" fill="none"/>
<path d="M588.7 535.3 L609.6 546.7" stroke="#000" stroke-width="5.8" fill="none"/>
<path d="M588.5 540.9 L609.4 552.2" stroke="#000" stroke-width="5.4" fill="none"/>
<path d="M588.7 546.3 L609.6 557.5" stroke="#000" stroke-width="4.8" fill="none"/>
<path d="M589.4 551.2 L610.3 562.4" stroke="#000" stroke-width="4.3" fill="none"/>
<path d="M590.6 555.8 L611.5 566.9" stroke="#000" stroke-width="3.7" fill="none"/>
<path d="M592.2 560 L613.1 571.1" stroke="#000" stroke-width="3" fill="none"/>
<path d="M594.3 563.6 L615.2 574.7" stroke="#000" stroke-width="2.4" fill="none"/>
<path d="M596.8 566.8 L617.7 577.8" stroke="#000" stroke-width="1.7" fill="none"/>
<path d="M648.1 458.6 L665.6 469.1" stroke="#fff" stroke-width="1" fill="none"/>
<path d="M643.6 459.7 L661.2 470.2" stroke="#fff" stroke-width="1.6" fill="none"/>
<path d="M639 461.5 L656.6 472" stroke="#fff" stroke-width="2.2" fill="none"/>
<path d="M634.3 463.9 L652 474.3" stroke="#fff" stroke-width="2.7" fill="none"/>
<path d="M629.6 466.8 L647.4 477.2" stroke="#fff" stroke-width="3.2" fill="none"/>
<path d="M625 470.3 L642.8 480.7" stroke="#fff" stroke-width="3.6" fill="none"/>
<path d="M620.5 474.3 L638.4 484.6" stroke="#fff" stroke-width="4" fill="none"/>
<path d="M616.2 478.7 L634 489 M593.5 518.1 L611.6 528" stroke="#fff" stroke-width="4.3" fill="none"/>
<path d="M612 483.6 L629.9 493.8 M595.6 512 L613.7 522" stroke="#fff" stroke-width="4.5" fill="none"/>
<path d="M608.1 488.8 L626 499" stroke="#fff" stroke-width="4.6" fill="none"/>
<path d="M604.4 494.3 L622.4 504.5 M601.1 500.1 L619.1 510.1 M598.2 506 L616.2 516" stroke="#fff" stroke-width="4.7" fill="none"/>
<path d="M591.8 524.2 L609.9 534" stroke="#fff" stroke-width="4.1" fill="none"/>
<path d="M590.5 530.1 L608.7 539.9" stroke="#fff" stroke-width="3.7" fill="none"/>
<path d="M589.8 535.9 L607.9 545.7" stroke="#fff" stroke-width="3.3" fill="none"/>
<path d="M589.5 541.5 L607.6 551.2" stroke="#fff" stroke-width="2.9" fill="none"/>
<path d="M589.7 546.8 L607.9 556.5" stroke="#fff" stroke-width="2.3" fill="none"/>
<path d="M590.4 551.8 L608.5 561.4" stroke="#fff" stroke-width="1.8" fill="none"/>
<path d="M591.6 556.4 L609.7 566" stroke="#fff" stroke-width="1.2" fill="none"/>
<path d="M668.9 471.7 L671.5 467.4 L673.2 467.3 L673.1 471.5 L674.1 471.6 L677 467.5 L678.5 467.7 L678 472.1 L678.9 472.4 L682 468.6 L683.4 469.2 L682.4 473.8 L683.2 474.2 L686.5 470.8 L687.8 471.7 L686.3 476.3 L687 476.9 L690.5 474 L691.5 475.2 L689.6 479.8 L690.2 480.6 L693.8 478.2 L694.6 479.6 L692.3 484.1 L692.8 485.1 L696.3 483.2 L696.9 484.9 L694.3 489.2 L694.6 490.3 L698.1 489 L698.5 490.9 L695.6 494.9 L695.7 496.1 L699.1 495.5 L699.2 497.5 L696.1 501.2 L696.1 502.6 L699.3 502.5 L699.2 504.7 L695.8 508 L695.7 509.4 L698.6 510 L698.3 512.3 L694.8 515.2 L694.5 516.6 L697.2 517.8 L696.6 520.2 L693.1 522.5 L692.6 524 L695 525.7 L694.2 528.1 L690.6 529.9 L690.1 531.4 L692 533.7 L691 536.1 L687.5 537.3 L686.8 538.7 L688.4 541.6 L687.2 543.9 L683.8 544.4 L683 545.8 L684.1 549.1 L682.7 551.3 L679.5 551.3 L678.6 552.6 L679.3 556.3 L677.8 558.4 L674.8 557.7 L673.8 559 L674 563 L672.4 564.9 L669.7 563.6 L668.7 564.7 L668.4 569 L666.6 570.7 L664.3 568.9 L663.2 569.8 L662.5 574.3 L660.7 575.7 L658.7 573.3 L657.6 574.1 L656.4 578.7 L654.6 579.9 L653.1 577 L651.9 577.6 L650.3 582.3 L648.4 583.1 L647.4 579.8 L646.3 580.2 L644.2 584.8 L642.4 585.3 L641.8 581.6 L640.7 581.8 L638.3 586.3 L636.6 586.5 L636.5 582.4 L635.4 582.5 L632.7 586.7 L631.1 586.6 L631.4 582.3 L630.5 582.2 L627.4 586.1 L625.9 585.7 L626.8 581.2 L625.9 580.8 L622.6 584.4 L621.3 583.7 L622.6 579.1 L621.8 578.5 L618.4 581.7 L617.3 580.7 L619 576.1 L618.3 575.3 L614.8 578 L613.8 576.7 L616 572.2 L615.1 570.7 L614.4 569.3 L613.8 567.9 L613.2 566.4 L612.7 564.8 L612.2 563.2 L611.9 561.5 L611.5 559.7 L611.3 557.9 L611.1 556.1 L611 554.2 L610.9 552.2 L610.9 550.3 L611 548.3 L611.2 546.2 L611.4 544.1 L611.6 542 L612 539.9 L612.4 537.8 L612.9 535.6 L613.4 533.4 L614 531.2 L614.7 529 L615.4 526.9 L616.2 524.7 L617 522.5 L617.9 520.3 L618.9 518.1 L619.9 515.9 L620.9 513.8 L622 511.7 L623.2 509.6 L624.4 507.5 L625.6 505.5 L626.9 503.5 L628.3 501.5 L629.6 499.6 L631.1 497.7 L632.5 495.8 L634 494 L635.5 492.3 L637 490.6 L638.6 489 L640.2 487.4 L641.8 485.9 L643.4 484.5 L645.1 483.1 L646.7 481.8 L648.4 480.5 L650.1 479.4 L651.8 478.3 L653.5 477.3 L655.1 476.3 L656.8 475.5 L658.5 474.7 L660.2 474 L661.8 473.4 L663.5 472.9 L665.1 472.4 L666.7 472.1 L668.3 471.8Z" fill="#fff" stroke="none"/>
<path d="M625.8 581.2 L624.4 580.6 L623.2 579.9 L621.9 579.1 L620.7 578.2 L619.6 577.3 L618.6 576.2 L617.6 575.1 L616.6 573.8 L615.8 572.5 L615 571.2 L614.2 569.7 L613.5 568.2 L612.9 566.6 L612.4 564.9 L611.9 563.2 L611.5 561.4 L611.2 559.5 L611 557.6 L610.8 555.7 L610.7 553.6 L610.6 551.6 L610.7 549.5 L610.8 547.3 L611 545.2 L611.3 543 L611.6 540.7 L612 538.5 L612.5 536.2 L613 533.9 L613.6 531.6 L614.3 529.3 L615.1 527 L615.9 524.7 L616.8 522.4 L617.7 520.1 L618.8 517.8 L619.8 515.5 L621 513.2 L622.1 511 L623.4 508.8 L624.7 506.6 L626 504.5 L627.4 502.4 L628.8 500.3 L630.3 498.3 L631.8 496.4 L633.4 494.4 L634.9 492.6 L636.6 490.8 L638.2 489.1 L639.9 487.4 L641.6 485.8 L643.3 484.3 L645 482.8 L646.8 481.4 L648.5 480.1 L650.3 478.9 L652.1 477.8 L653.8 476.7 L655.6 475.8 L657.4 474.9 L659.2 474.1 L660.9 473.4 L662.7 472.8 L664.4 472.3 L666.1 471.9 L667.8 471.5 L669.4 471.3 L671.1 471.2 L672.7 471.1 L674.3 471.2 L675.8 471.3 L677.3 471.6 L678.7 471.9 L680.2 472.4 L681.5 472.9 L682.8 473.5 L684.1 474.3 L685.3 475.1 L686.5 476" fill="none" stroke="#000" stroke-width="1.6"/>
<path d="M668.9 471.7 L671.5 467.4 L673.2 467.3 L673.1 471.5 L674.1 471.6 L677 467.5 L678.5 467.7 L678 472.1 L678.9 472.4 L682 468.6 L683.4 469.2 L682.4 473.8 L683.2 474.2 L686.5 470.8 L687.8 471.7 L686.3 476.3 L687 476.9 L690.5 474 L691.5 475.2 L689.6 479.8 L690.2 480.6 L693.8 478.2 L694.6 479.6 L692.3 484.1 L692.8 485.1 L696.3 483.2 L696.9 484.9 L694.3 489.2 L694.6 490.3 L698.1 489 L698.5 490.9 L695.6 494.9 L695.7 496.1 L699.1 495.5 L699.2 497.5 L696.1 501.2 L696.1 502.6 L699.3 502.5 L699.2 504.7 L695.8 508 L695.7 509.4 L698.6 510 L698.3 512.3 L694.8 515.2 L694.5 516.6 L697.2 517.8 L696.6 520.2 L693.1 522.5 L692.6 524 L695 525.7 L694.2 528.1 L690.6 529.9 L690.1 531.4 L692 533.7 L691 536.1 L687.5 537.3 L686.8 538.7 L688.4 541.6 L687.2 543.9 L683.8 544.4 L683 545.8 L684.1 549.1 L682.7 551.3 L679.5 551.3 L678.6 552.6 L679.3 556.3 L677.8 558.4 L674.8 557.7 L673.8 559 L674 563 L672.4 564.9 L669.7 563.6 L668.7 564.7 L668.4 569 L666.6 570.7 L664.3 568.9 L663.2 569.8 L662.5 574.3 L660.7 575.7 L658.7 573.3 L657.6 574.1 L656.4 578.7 L654.6 579.9 L653.1 577 L651.9 577.6 L650.3 582.3 L648.4 583.1 L647.4 579.8 L646.3 580.2 L644.2 584.8 L642.4 585.3 L641.8 581.6 L640.7 581.8 L638.3 586.3 L636.6 586.5 L636.5 582.4 L635.4 582.5 L632.7 586.7 L631.1 586.6 L631.4 582.3 L630.5 582.2 L627.4 586.1 L625.9 585.7 L626.8 581.2 L625.9 580.8 L622.6 584.4 L621.3 583.7 L622.6 579.1 L621.8 578.5 L618.4 581.7 L617.3 580.7 L619 576.1 L618.3 575.3 L614.8 578 L613.8 576.7 L616 572.2" fill="none" stroke="#000" stroke-width="2.1"/>
<ellipse cx="653.5" cy="527" rx="56.4" ry="32.5" transform="rotate(-60.6 653.5 527)" fill="none" stroke="#000" stroke-width="1.25" />
<path d="M667.7 495.3 L669 495.7 L670.2 496.2 L671.3 496.9 L672.3 497.6 L673.3 498.5 L674.2 499.5" fill="none" stroke="#000" stroke-width="1.15"/>
<path d="M668.8 492.9 L670.2 493.3 L671.5 493.9 L672.7 494.6 L673.8 495.4 L674.8 496.3 L675.8 497.4" fill="none" stroke="#000" stroke-width="1.15"/>
<path d="M669.9 490.5 L671.4 490.9 L672.7 491.5 L674 492.2 L675.2 493.1 L676.4 494.1 L677.4 495.3" fill="none" stroke="#000" stroke-width="1.15"/>
<path d="M671 488 L672.6 488.5 L674 489.1 L675.4 489.9 L676.7 490.8 L677.9 491.9 L679 493.2" fill="none" stroke="#000" stroke-width="1.15"/>
<path d="M672.1 485.6 L673.8 486.1 L675.3 486.7 L676.8 487.6 L678.2 488.6 L679.4 489.7 L680.6 491" fill="none" stroke="#000" stroke-width="1.15"/>
<path d="M673.2 483.1 L674.9 483.7 L676.6 484.4 L678.1 485.3 L679.6 486.3 L681 487.5 L682.2 488.9" fill="none" stroke="#000" stroke-width="1.15"/>
<path d="M674.3 480.7 L676.1 481.2 L677.9 482 L679.5 482.9 L681.1 484.1 L682.5 485.3 L683.8 486.8" fill="none" stroke="#000" stroke-width="1.15"/>
<path d="M639.3 558.7 L638.1 558.3 L637 557.9 L636 557.3 L635 556.6 L634.1 555.9 L633.3 555" fill="none" stroke="#000" stroke-width="1.15"/>
<path d="M638.1 561.2 L636.9 560.8 L635.7 560.3 L634.6 559.7 L633.6 559 L632.6 558.2 L631.7 557.3" fill="none" stroke="#000" stroke-width="1.15"/>
<path d="M637 563.7 L635.7 563.3 L634.4 562.8 L633.2 562.2 L632.1 561.4 L631 560.5 L630 559.5" fill="none" stroke="#000" stroke-width="1.15"/>
<path d="M635.9 566.3 L634.4 565.8 L633.1 565.3 L631.8 564.6 L630.6 563.8 L629.5 562.8 L628.4 561.8" fill="none" stroke="#000" stroke-width="1.15"/>
<path d="M634.7 568.8 L633.2 568.3 L631.8 567.7 L630.4 567 L629.1 566.1 L627.9 565.1 L626.8 564" fill="none" stroke="#000" stroke-width="1.15"/>
<path d="M633.6 571.3 L632 570.8 L630.5 570.2 L629 569.4 L627.6 568.5 L626.4 567.4 L625.2 566.2" fill="none" stroke="#000" stroke-width="1.15"/>
<path d="M628.6 536.1 L628.8 534.8 L629.1 533.5 L629.4 532.1 L629.7 530.8 L630 529.5 L630.5 528.1" fill="none" stroke="#000" stroke-width="1.15"/>
<path d="M625.6 537.2 L625.8 535.7 L626.1 534.3 L626.4 532.8 L626.8 531.3 L627.2 529.8 L627.6 528.3" fill="none" stroke="#000" stroke-width="1.15"/>
<path d="M622.5 538.3 L622.8 536.7 L623.1 535.1 L623.5 533.4 L623.9 531.8 L624.3 530.1 L624.8 528.4" fill="none" stroke="#000" stroke-width="1.15"/>
<path d="M619.5 539.4 L619.8 537.6 L620.1 535.8 L620.5 534 L620.9 532.2 L621.4 530.4 L622 528.6" fill="none" stroke="#000" stroke-width="1.15"/>
<path d="M640.6 510 L641.7 508.6 L642.8 507.3 L644 506 L645.2 504.7 L646.4 503.5 L647.7 502.4" fill="none" stroke="#000" stroke-width="1.15"/>
<path d="M639 508 L640.3 506.4 L641.6 504.9 L642.9 503.4 L644.2 502.1 L645.6 500.7 L647 499.5" fill="none" stroke="#000" stroke-width="1.15"/>
<path d="M637.5 505.9 L638.9 504.2 L640.3 502.5 L641.7 500.9 L643.2 499.4 L644.8 497.9 L646.3 496.5" fill="none" stroke="#000" stroke-width="1.15"/>
<path d="M635.9 503.9 L637.5 502 L639 500.1 L640.6 498.4 L642.2 496.7 L643.9 495.1 L645.6 493.6" fill="none" stroke="#000" stroke-width="1.15"/>
<path d="M634.4 501.8 L636 499.8 L637.7 497.8 L639.5 495.9 L641.3 494 L643.1 492.3 L644.9 490.6" fill="none" stroke="#000" stroke-width="1.15"/>
<ellipse cx="655.8" cy="490.4" rx="12" ry="8.2" transform="rotate(-32 655.8 490.4)" fill="#fff" stroke="#000" stroke-width="2.1"/>
<ellipse cx="682.4" cy="507" rx="12.4" ry="4.4" transform="rotate(-80 682.4 507)" fill="#fff" stroke="#000" stroke-width="2.1"/>
<ellipse cx="673.6" cy="542" rx="12.6" ry="3.3" transform="rotate(-59 673.6 542)" fill="#fff" stroke="#000" stroke-width="2.1"/>
<ellipse cx="649.6" cy="564" rx="11.6" ry="3.9" transform="rotate(-27 649.6 564)" fill="#fff" stroke="#000" stroke-width="2.1"/>
<ellipse cx="624.2" cy="551" rx="13" ry="6.4" transform="rotate(-78 624.2 551)" fill="#fff" stroke="#000" stroke-width="2.1"/>
<path d="M647.6 494.2 Q656 498.6 665.4 487.6 Q660.4 496.2 651 496.6 Q648.6 495.8 647.6 494.2Z" fill="#000" stroke="#000" stroke-width="1.2"/>
<path d="M680.4 517.4 Q678.6 506.4 683 496.6" fill="none" stroke="#000" stroke-width="1.4"/>
<path d="M628.6 540 Q630.6 552 625.6 562.6" fill="none" stroke="#000" stroke-width="1.5"/>
<path d="M641.2 568 Q651 567.4 659 561.6" fill="none" stroke="#000" stroke-width="1.3"/>
<path d="M667.8 551 Q672.4 541 679 533" fill="none" stroke="#000" stroke-width="1.2"/>
<path d="M630.4 501.4 Q640 512.6 619.4 525.6 Q634.6 521.6 636.8 509.6 Q635.2 503.2 630.4 501.4Z" fill="#fff" stroke="#000" stroke-width="2"/>
<path d="M619.8 525.8 Q631.6 523.4 635.4 512.6" fill="none" stroke="#000" stroke-width="3"/>
<path d="M670.7 540.7 L669.2 542.8 L667.7 544.9 L666.1 546.8 L664.5 548.6 L662.8 550.2 L661 551.7 L659.2 553 L657.4 554.2 L655.6 555.2 L653.9 556 L652.1 556.5 L650.4 556.9 L648.7 557.1 L647.1 557.1 L645.5 556.9 L644.1 556.4 L642.8 555.8 L641.5 555 L640.4 554 L639.4 552.8 L638.6 551.4 L637.9 549.9 L637.3 548.2 L636.9 546.4 L636.6 544.5 L636.5 542.4 L636.6 540.3 L636.8 538.1 L637.2 535.8 L637.7 533.5 L638.4 531.1 L639.2 528.8 L640.1 526.4 L641.2 524.1 L642.4 521.9 L643.7 519.7 L645.2 517.6 L646.7 515.5 L648.3 513.6 L649.9 511.8 L651.6 510.2 L653.4 508.7 L655.2 507.4 L657 506.2 L658.8 505.2 L660.5 504.4 L662.3 503.9 L664 503.5 L665.7 503.3 L667.3 503.3" fill="none" stroke="#000" stroke-width="1.3"/>
<ellipse cx="658.8" cy="530.8" rx="23.4" ry="13.5" transform="rotate(-60.6 658.8 530.8)" fill="#fff" stroke="#000" stroke-width="2.0" />
<path d="M671.3 510.6 L672 511.1 L672.7 511.6 L673.4 512.3 L674 513 L674.5 513.8 L675 514.7 L675.4 515.7 L675.7 516.7 L676 517.8 L676.2 519 L676.3 520.2 L676.3 521.4 L676.3 522.7 L676.2 524 L676 525.4 L675.8 526.8 L675.5 528.2 L675.1 529.6 L674.7 531 L674.2 532.4 L673.6 533.9 L673 535.3 L672.3 536.7 L671.6 538 L670.8 539.4 L669.9 540.7 L669.1 542 L668.1 543.2 L667.2 544.3 L666.2 545.5 L665.2 546.5 L664.1 547.5 L663.1 548.4 L662 549.3 L660.9 550 L659.8 550.7 L658.7 551.3 L657.6 551.9 L656.5 552.3 L655.5 552.6" fill="none" stroke="#000" stroke-width="4"/>
<ellipse cx="658.2" cy="530.5" rx="17.8" ry="10.3" transform="rotate(-60.6 658.2 530.5)" fill="none" stroke="#000" stroke-width="1.7" />
<ellipse cx="657.4" cy="531" rx="12.6" ry="7.3" transform="rotate(-60.6 657.4 531)" fill="#fff" stroke="#000" stroke-width="2.3" />
<path d="M657 537.5 L656.3 538 L655.6 538.3 L654.9 538.5 L654.3 538.7 L653.7 538.7 L653.1 538.6 L652.5 538.4 L652 538.2 L651.6 537.8 L651.2 537.3 L650.9 536.8 L650.7 536.1 L650.6 535.4 L650.5 534.7 L650.5 533.9 L650.6 533 L650.8 532.2 L651 531.3 L651.3 530.4 L651.7 529.5 L652.2 528.6 L652.7 527.8 L653.2 527 L653.8 526.3 L654.5 525.6 L655.1 525 L655.8 524.5 L656.5 524 L657.2 523.7 L657.9 523.5" fill="none" stroke="#000" stroke-width="1.3"/>
<path d="M661.5 516.8 L662.1 516.7 L662.7 516.7 L663.2 516.7 L663.8 516.8 L664.3 516.9 L664.8 517 L665.2 517.2 L665.7 517.5 L666.1 517.8 L666.5 518.1 L666.9 518.5 L667.2 518.9 L667.5 519.4 L667.8 519.9 L668 520.4 L668.2 521 L668.4 521.6 L668.5 522.2 L668.6 522.9 L668.7 523.6 L668.7 524.3 L668.7 525 L668.6 525.8 L668.5 526.5 L668.4 527.3 L668.3 528.1 L668.1 528.9 L667.9 529.7 L667.6 530.5 L667.3 531.3" fill="none" stroke="#000" stroke-width="3"/>
<path d="M659.6 516.2 l1.4 3.4 l-3.2 1.5 l1.7 3.1 l3.6 -1.5" fill="none" stroke="#000" stroke-width="1.6"/>
</g>
<g stroke-linecap="round" stroke-linejoin="round">
<path d="M394.6 369.8 L401 372.8 L403.4 377 L398.8 388.2 L392.4 387.6 L387 383.4 L388.8 374.4Z" fill="#fff" stroke="#000" stroke-width="3"/>
<path d="M394.4 374.6 L400.6 373.4 M394.4 374.6 L390.4 384.4 M390.4 384.4 L397.6 387.4" stroke="#000" stroke-width="1.5" fill="none"/>
<ellipse cx="402.8" cy="384.4" rx="13.6" ry="7.2" transform="rotate(-60.6 402.8 384.4)" fill="#fff" stroke="#000" stroke-width="3"/>
<ellipse cx="405.8" cy="385" rx="13.8" ry="8" transform="rotate(-60.6 405.8 385)" fill="#fff" stroke="#000" stroke-width="3"/>
<path d="M394.6 369.8 L401 372.8 L403.4 377 L398.8 388.2 L392.4 387.6 L387 383.4 L388.8 374.4Z" fill="#fff" stroke="#000" stroke-width="3"/>
<path d="M394.4 374.6 L400.6 373.4 M394.4 374.6 L390.4 384.4 M390.4 384.4 L397.6 387.4" stroke="#000" stroke-width="1.5" fill="none"/>
<ellipse cx="407.2" cy="386" rx="7" ry="4.3" transform="rotate(-60.6 407.2 386)" fill="#fff" stroke="#000" stroke-width="2.4"/>
<path d="M405.8 381.4 L413.6 385.8 L410.4 393.2 L403.6 389.4Z" fill="#fff" stroke="none"/>
<path d="M405.4 381 L414 385.8 M403.2 389.2 L411 393.6" stroke="#000" stroke-width="2.4" fill="none"/>
<path d="M406.8 386 L411.2 388.5" stroke="#000" stroke-width="1.2" fill="none"/>
<path d="M421 386.4 L444 399.4 A4.8 6.9 29.4 0 1 437.2 411.4 L414.2 398.4 A4.8 6.9 29.4 0 1 421 386.4Z" fill="#000" stroke="#000" stroke-width="3"/>
<path d="M422 388.9 Q416.6 391.9 414.9 396.6" stroke="#fff" stroke-width="2" fill="none"/>
<path d="M425.2 390.7 Q419.9 393.7 418.1 398.4" stroke="#fff" stroke-width="2" fill="none"/>
<path d="M428.4 392.5 Q423.1 395.5 421.3 400.2" stroke="#fff" stroke-width="2" fill="none"/>
<path d="M431.7 394.4 Q426.3 397.3 424.6 402.1" stroke="#fff" stroke-width="2" fill="none"/>
<path d="M434.9 396.2 Q429.5 399.1 427.8 403.9" stroke="#fff" stroke-width="2" fill="none"/>
<path d="M438.1 398 Q432.8 400.9 431 405.7" stroke="#fff" stroke-width="2" fill="none"/>
<ellipse cx="440.8" cy="405.5" rx="4.6" ry="2.9" transform="rotate(-60.6 440.8 405.5)" fill="#fff" stroke="#000" stroke-width="1.3"/>
<path d="M440.2 406.9 l1.6 -2.4" stroke="#000" stroke-width="1" fill="none"/>
</g>
<g stroke-linecap="round" stroke-linejoin="round">
<path d="M320.4 455.2 L326.4 446.6 L334 444.8 L341.4 448.2 L345.4 455.8 L344.6 465.6 L339.4 473.6 L331.2 475.8 L323.6 471.2 L319 462.4Z" fill="#fff" stroke="#000" stroke-width="2.8"/>
<ellipse cx="336.4" cy="462.2" rx="12.6" ry="8" transform="rotate(-62 336.4 462.2)" fill="#fff" stroke="#000" stroke-width="2.2"/>
<ellipse cx="336.6" cy="462.6" rx="6.4" ry="3.8" transform="rotate(-62 336.6 462.6)" fill="#fff" stroke="#000" stroke-width="2.2"/>
<path d="M335 465.4 L338.4 459.6" stroke="#000" stroke-width="1.2" fill="none"/>
<path d="M326.6 447.2 L332.6 451.6 L341 448.6 M332.6 451.6 L328.4 459.4 M321 456 L328.4 459.4 L327.6 470.6" stroke="#000" stroke-width="1.4" fill="none"/>
<path d="M318.8 461.6 L326.6 464.6 L328.6 470.6 L330.6 475.6 L325.8 474.6 L320.8 470.2 L318.4 464.6Z" fill="#000" stroke="#000" stroke-width="1"/>
</g>
<g stroke-linecap="round">
<ellipse cx="363" cy="477.2" rx="14.6" ry="9.4" transform="rotate(-60.6 363 477.2)" fill="#fff" stroke="#000" stroke-width="2.4"/>
<ellipse cx="365.6" cy="478.4" rx="14.4" ry="9.2" transform="rotate(-60.6 365.6 478.4)" fill="#fff" stroke="#000" stroke-width="2.4"/>
<ellipse cx="365.2" cy="479" rx="7" ry="4.6" transform="rotate(-60.6 365.2 479)" fill="#fff" stroke="#000" stroke-width="2.6"/>
<path d="M364.6 473.6 Q369.6 472.2 371 477.8" stroke="#000" stroke-width="2.6" fill="none"/>
<path d="M363.6 477.4 L381.8 487.4" stroke="#000" stroke-width="1.5" fill="none"/>
</g>
<g stroke-linecap="round" stroke-linejoin="round">
<path d="M549.9 579.7 L593.6 604.9 A4.4 5.5 30 0 1 588.1 614.5 L544.4 589.3 A4.4 5.5 30 0 1 549.9 579.7Z" fill="#fff" stroke="#000" stroke-width="2.6"/>
<path d="M550.1 582.1 Q546.1 583.9 544.8 587.5" stroke="#000" stroke-width="1.45" fill="none"/>
<path d="M552.5 583.5 Q548.5 585.3 547.2 588.9" stroke="#000" stroke-width="1.45" fill="none"/>
<path d="M555 584.9 Q550.9 586.7 549.6 590.3" stroke="#000" stroke-width="1.45" fill="none"/>
<path d="M557.4 586.3 Q553.3 588.1 552 591.7" stroke="#000" stroke-width="1.45" fill="none"/>
<path d="M559.8 587.7 Q555.8 589.5 554.5 593.1" stroke="#000" stroke-width="1.45" fill="none"/>
<path d="M562.2 589.1 Q558.2 590.9 556.9 594.5" stroke="#000" stroke-width="1.45" fill="none"/>
<path d="M564.7 590.5 Q560.6 592.3 559.3 595.9" stroke="#000" stroke-width="1.45" fill="none"/>
<path d="M577.4 597.8 Q573.3 599.6 572 603.3" stroke="#000" stroke-width="1.45" fill="none"/>
<path d="M579.8 599.2 Q575.8 601 574.5 604.7" stroke="#000" stroke-width="1.45" fill="none"/>
<path d="M582.2 600.6 Q578.2 602.4 576.9 606.1" stroke="#000" stroke-width="1.45" fill="none"/>
<path d="M584.7 602 Q580.6 603.9 579.3 607.5" stroke="#000" stroke-width="1.45" fill="none"/>
<path d="M587.1 603.4 Q583 605.2 581.7 608.9" stroke="#000" stroke-width="1.45" fill="none"/>
<path d="M589.5 604.8 Q585.5 606.6 584.2 610.3" stroke="#000" stroke-width="1.45" fill="none"/>
<path d="M591.9 606.2 Q587.9 608 586.6 611.7" stroke="#000" stroke-width="1.45" fill="none"/>
<path d="M564.7 593 L573.4 598" stroke="#000" stroke-width="1.3" fill="none"/>
<path d="M563 595.9 L571.7 600.9" stroke="#000" stroke-width="1.3" fill="none"/>
<ellipse cx="591.2" cy="609.9" rx="3.6" ry="2.3" transform="rotate(-60 591.2 609.9)" fill="#fff" stroke="#000" stroke-width="1.3"/>
<path d="M590.2 610.5 l2 -1.2 M590.8 608.7 l1.4 1.6" stroke="#000" stroke-width="1" fill="none"/>
</g>
<g>
<path d="M683.7 616.4 C685.9 617.7 692.4 621.6 697 624.4 C701.6 627.2 709.3 630.4 711.6 633 C713.9 635.6 711.4 637.4 710.6 640 C709.8 642.6 708 645.7 706.6 648.6 C705.2 651.5 702.8 656.1 702 657.6" fill="none" stroke="#000" stroke-width="2" stroke-dasharray="8.6 3.2" stroke-linecap="butt" />
<path d="M683.7 616.4 C683.1 617.1 680.4 619.2 680.2 620.6 C680 622 680.3 623.3 682.4 625 C684.5 626.7 691.3 628.6 692.6 630.6 C693.9 632.6 691.4 635 690.4 637 C689.4 639 688.8 641 686.6 642.4 C684.4 643.8 679.4 644.3 677 645.6 C674.6 646.9 673.6 648.7 672.4 650.4 C671.2 652.1 670.1 655.1 669.6 656" fill="none" stroke="#000" stroke-width="2" stroke-dasharray="8.6 3.2" stroke-linecap="butt" />
<path d="M659.3 660.4 C660.8 660.2 665.3 659.8 668 659.2 C670.7 658.6 673.2 657.7 675.6 656.6 C678 655.5 680.1 653.5 682.4 652.6 C684.7 651.7 687.3 650.9 689.4 651 C691.5 651.1 693.5 652.3 695 653.4 C696.5 654.5 698 656.9 698.6 657.6" fill="none" stroke="#000" stroke-width="2" stroke-dasharray="8.6 3.2" stroke-linecap="butt" />
<path d="M715.6 634.6 C716.6 635.6 719.8 638.1 721.4 640.4 C723 642.7 724.3 645 725 648.6 C725.7 652.2 725.8 657.7 725.4 662 C725 666.3 723.8 670.4 722.6 674.4 C721.4 678.4 719.6 682.5 718 686 C716.4 689.5 714.4 692.9 713 695.6 C711.6 698.3 710.2 700.9 709.6 702" fill="none" stroke="#000" stroke-width="2" stroke-dasharray="8.6 3.2" stroke-linecap="butt" />
<path d="M619.4 675 C621.3 674.2 627.2 671.9 631 670.4 C634.8 668.9 638.3 667.5 642 666.2 C645.7 664.9 649.2 663.6 653 662.6 C656.8 661.6 662.6 660.4 664.5 660" fill="none" stroke="#000" stroke-width="2" stroke-dasharray="8.6 3.2" stroke-linecap="butt" />
<path d="M612.4 691.2 C613.1 690.7 615 689.5 616.4 688.4 C617.8 687.3 619.1 685.9 621 684.6 C622.9 683.3 625.7 681.8 628 680.6 C630.3 679.4 632.3 678.5 635 677.4 C637.7 676.3 641 675 644 674 C647 673 651.5 671.7 653 671.2" fill="none" stroke="#000" stroke-width="2" stroke-dasharray="8.6 3.2" stroke-linecap="butt" />
<path d="M606.6 676 C607.5 675.6 609.8 673.5 612 673.4 C614.2 673.3 619.4 672.3 619.6 675.2 C619.8 678.1 615.3 688.7 613.4 690.8 C611.5 692.9 609.2 688.5 608.4 688" fill="none" stroke="#000" stroke-width="2" stroke-dasharray="8.6 3.2" stroke-linecap="butt" />
<path d="M604 681.4 L610.4 678.6 M603 684.6 L611 681.4 M603 687.8 L609 685.6" fill="none" stroke="#000" stroke-width="2" stroke-dasharray="4 2" stroke-linecap="butt"/>
<path d="M590.6 676.4 C589.5 676.6 586 676.6 584 677.4 C582 678.2 580.1 679.4 578.6 681.2 C577.1 683 575.5 685.6 575 688 C574.5 690.4 574.8 693.1 575.4 695.6 C576 698.1 577.2 700.6 578.6 703 C580 705.4 582.5 708.4 583.6 710 C584.7 711.6 585.1 712 585.4 712.4" fill="none" stroke="#000" stroke-width="2" stroke-dasharray="8.6 3.2" stroke-linecap="butt" />
<path d="M591.4 679.6 C590.9 681 589.2 685 588.4 688 C587.6 691 586.9 694.4 586.4 697.6 C585.9 700.8 585.8 703.9 585.6 707 C585.4 710.1 585.4 714.8 585.4 716.4" fill="none" stroke="#000" stroke-width="2" stroke-dasharray="8.6 3.2" stroke-linecap="butt" />
<path d="M595.4 680.6 C596.1 681.3 598.6 683.4 599.6 684.6 C600.6 685.8 601.3 687.4 601.6 688" fill="none" stroke="#000" stroke-width="2" stroke-dasharray="8.6 3.2" stroke-linecap="butt" />
<path d="M605 690.6 C604.4 691.8 602.3 695 601.4 697.6 C600.5 700.2 599.8 703.3 599.6 706 C599.4 708.7 600 711.4 600.4 714 C600.8 716.6 601.6 720.2 601.8 721.4" fill="none" stroke="#000" stroke-width="2" stroke-dasharray="8.6 3.2" stroke-linecap="butt" />
<path d="M705 720.4 C705.7 722.3 708 727.9 709.4 731.6 C710.8 735.3 712.9 740.6 713.6 742.4" fill="none" stroke="#000" stroke-width="2" stroke-dasharray="8.6 3.2" stroke-linecap="butt" />
<path d="M713.6 742.4 C710.8 743.2 702.3 745.4 697 747 C691.7 748.6 687.7 749.6 682 751.8 C676.3 754 668.8 757.7 663 760.4 C657.2 763.1 649.7 766.9 647 768.2" fill="none" stroke="#000" stroke-width="2" stroke-dasharray="8.6 3.2" stroke-linecap="butt" />
<ellipse cx="610.6" cy="705.4" rx="3.2" ry="4" transform="rotate(28 610.6 705.4)" fill="none" stroke="#000" stroke-width="1.9" stroke-dasharray="4.5 2"/>
<ellipse cx="656.7" cy="676.6" rx="3" ry="4.4" transform="rotate(28 656.7 676.6)" fill="none" stroke="#000" stroke-width="1.9" stroke-dasharray="4.5 2"/>
<ellipse cx="682" cy="676" rx="3.2" ry="4.2" transform="rotate(28 682 676)" fill="none" stroke="#000" stroke-width="1.9" stroke-dasharray="4.5 2"/>
<ellipse cx="701.4" cy="673.6" rx="4.6" ry="6" transform="rotate(28 701.4 673.6)" fill="none" stroke="#000" stroke-width="1.9" stroke-dasharray="4.5 2"/>
<ellipse cx="643.8" cy="723.6" rx="4.6" ry="7" transform="rotate(28 643.8 723.6)" fill="none" stroke="#000" stroke-width="1.9" stroke-dasharray="4.5 2"/>
<ellipse cx="701.2" cy="700.6" rx="2.6" ry="3.4" transform="rotate(28 701.2 700.6)" fill="none" stroke="#000" stroke-width="1.9" stroke-dasharray="4.5 2"/>
<ellipse cx="709.8" cy="710.4" rx="6.4" ry="8.4" transform="rotate(24 709.8 710.4)" fill="none" stroke="#000" stroke-width="1.9" stroke-dasharray="4.5 2"/>
<ellipse cx="709.8" cy="710.4" rx="3" ry="4.2" transform="rotate(24 709.8 710.4)" fill="none" stroke="#000" stroke-width="1.9" stroke-dasharray="4.5 2"/>
<path d="M655.6 668.4 Q660.4 670.6 658.6 675" fill="none" stroke="#000" stroke-width="1.9" stroke-dasharray="4.5 2"/>
</g>
<path d="M504 644 L561.5 676.6" stroke="#000" stroke-width="1.5" fill="none"/>
<path d="M571.6 479 L591 490" stroke="#000" stroke-width="1.5" fill="none"/>
</svg>
</body>
</html>
